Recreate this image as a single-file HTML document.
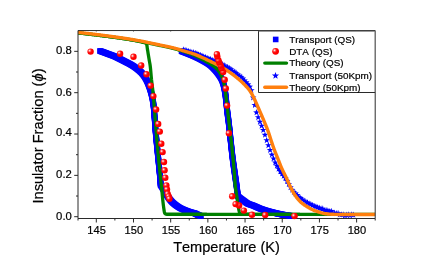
<!DOCTYPE html><html><head><meta charset="utf-8"><title>chart</title><style>html,body{margin:0;padding:0;background:#fff}
#c{will-change:transform;position:relative;width:436px;height:262px;overflow:hidden;background:#fff;font-family:"Liberation Sans",sans-serif;color:#000}
.t{position:absolute;white-space:nowrap;line-height:1;-webkit-text-stroke:0.2px #000;font-kerning:none}
.xl{font-size:11.1px;transform:translateX(-50%);top:224.5px}
.yl{font-size:11.3px;right:364.2px;transform:translateY(-50%)}
.lg{font-size:9.88px;left:289.2px;transform:translateY(-50%)}
</style></head><body><div id="c"><svg width="436" height="262" viewBox="0 0 436 262" style="position:absolute;left:0;top:0"><defs><radialGradient id="rg" cx="0.34" cy="0.35" r="0.68" fx="0.34" fy="0.35"><stop offset="0" stop-color="#fff0f0"/><stop offset="0.11" stop-color="#ffc4c4"/><stop offset="0.25" stop-color="#ff6464"/><stop offset="0.43" stop-color="#ff1616"/><stop offset="0.62" stop-color="#ff0000"/><stop offset="1" stop-color="#f80000"/></radialGradient><clipPath id="cp"><rect x="78.0" y="30.55" width="297.2" height="189.14999999999998"/></clipPath></defs><rect width="436" height="262" fill="#fff"/><g clip-path="url(#cp)"><g fill="#0000ff"><rect x="97.15" y="48.20" width="5.6" height="5.6"/><rect x="97.72" y="48.39" width="5.6" height="5.6"/><rect x="98.30" y="48.58" width="5.6" height="5.6"/><rect x="98.87" y="48.77" width="5.6" height="5.6"/><rect x="99.44" y="48.97" width="5.6" height="5.6"/><rect x="100.01" y="49.17" width="5.6" height="5.6"/><rect x="100.58" y="49.37" width="5.6" height="5.6"/><rect x="101.15" y="49.58" width="5.6" height="5.6"/><rect x="101.71" y="49.79" width="5.6" height="5.6"/><rect x="102.28" y="50.00" width="5.6" height="5.6"/><rect x="102.85" y="50.21" width="5.6" height="5.6"/><rect x="103.41" y="50.42" width="5.6" height="5.6"/><rect x="103.98" y="50.64" width="5.6" height="5.6"/><rect x="104.54" y="50.85" width="5.6" height="5.6"/><rect x="105.11" y="51.06" width="5.6" height="5.6"/><rect x="105.67" y="51.27" width="5.6" height="5.6"/><rect x="106.24" y="51.48" width="5.6" height="5.6"/><rect x="106.81" y="51.69" width="5.6" height="5.6"/><rect x="107.38" y="51.89" width="5.6" height="5.6"/><rect x="107.95" y="52.10" width="5.6" height="5.6"/><rect x="108.52" y="52.30" width="5.6" height="5.6"/><rect x="109.08" y="52.51" width="5.6" height="5.6"/><rect x="109.65" y="52.72" width="5.6" height="5.6"/><rect x="110.21" y="52.94" width="5.6" height="5.6"/><rect x="110.77" y="53.16" width="5.6" height="5.6"/><rect x="111.33" y="53.39" width="5.6" height="5.6"/><rect x="111.89" y="53.62" width="5.6" height="5.6"/><rect x="112.44" y="53.87" width="5.6" height="5.6"/><rect x="112.99" y="54.12" width="5.6" height="5.6"/><rect x="113.53" y="54.38" width="5.6" height="5.6"/><rect x="114.08" y="54.64" width="5.6" height="5.6"/><rect x="114.62" y="54.91" width="5.6" height="5.6"/><rect x="115.16" y="55.18" width="5.6" height="5.6"/><rect x="115.70" y="55.45" width="5.6" height="5.6"/><rect x="116.24" y="55.72" width="5.6" height="5.6"/><rect x="116.78" y="55.99" width="5.6" height="5.6"/><rect x="117.32" y="56.26" width="5.6" height="5.6"/><rect x="117.86" y="56.53" width="5.6" height="5.6"/><rect x="118.40" y="56.80" width="5.6" height="5.6"/><rect x="118.94" y="57.07" width="5.6" height="5.6"/><rect x="119.48" y="57.34" width="5.6" height="5.6"/><rect x="120.02" y="57.62" width="5.6" height="5.6"/><rect x="120.56" y="57.89" width="5.6" height="5.6"/><rect x="121.10" y="58.17" width="5.6" height="5.6"/><rect x="121.63" y="58.44" width="5.6" height="5.6"/><rect x="122.17" y="58.72" width="5.6" height="5.6"/><rect x="122.71" y="59.00" width="5.6" height="5.6"/><rect x="123.24" y="59.28" width="5.6" height="5.6"/><rect x="123.78" y="59.55" width="5.6" height="5.6"/><rect x="124.32" y="59.83" width="5.6" height="5.6"/><rect x="124.86" y="60.11" width="5.6" height="5.6"/><rect x="125.39" y="60.38" width="5.6" height="5.6"/><rect x="125.93" y="60.66" width="5.6" height="5.6"/><rect x="126.47" y="60.94" width="5.6" height="5.6"/><rect x="127.00" y="61.23" width="5.6" height="5.6"/><rect x="127.53" y="61.52" width="5.6" height="5.6"/><rect x="128.05" y="61.82" width="5.6" height="5.6"/><rect x="128.57" y="62.12" width="5.6" height="5.6"/><rect x="129.09" y="62.43" width="5.6" height="5.6"/><rect x="129.60" y="62.75" width="5.6" height="5.6"/><rect x="130.11" y="63.07" width="5.6" height="5.6"/><rect x="130.62" y="63.40" width="5.6" height="5.6"/><rect x="131.13" y="63.73" width="5.6" height="5.6"/><rect x="131.63" y="64.07" width="5.6" height="5.6"/><rect x="132.13" y="64.42" width="5.6" height="5.6"/><rect x="132.63" y="64.77" width="5.6" height="5.6"/><rect x="133.12" y="65.12" width="5.6" height="5.6"/><rect x="133.60" y="65.48" width="5.6" height="5.6"/><rect x="134.08" y="65.85" width="5.6" height="5.6"/><rect x="134.55" y="66.22" width="5.6" height="5.6"/><rect x="135.02" y="66.60" width="5.6" height="5.6"/><rect x="135.49" y="66.98" width="5.6" height="5.6"/><rect x="135.95" y="67.37" width="5.6" height="5.6"/><rect x="136.42" y="67.76" width="5.6" height="5.6"/><rect x="136.87" y="68.17" width="5.6" height="5.6"/><rect x="137.33" y="68.57" width="5.6" height="5.6"/><rect x="137.77" y="68.99" width="5.6" height="5.6"/><rect x="138.21" y="69.41" width="5.6" height="5.6"/><rect x="138.63" y="69.84" width="5.6" height="5.6"/><rect x="139.04" y="70.28" width="5.6" height="5.6"/><rect x="139.44" y="70.72" width="5.6" height="5.6"/><rect x="139.83" y="71.17" width="5.6" height="5.6"/><rect x="140.21" y="71.64" width="5.6" height="5.6"/><rect x="140.58" y="72.11" width="5.6" height="5.6"/><rect x="140.94" y="72.60" width="5.6" height="5.6"/><rect x="141.29" y="73.10" width="5.6" height="5.6"/><rect x="141.64" y="73.60" width="5.6" height="5.6"/><rect x="141.97" y="74.11" width="5.6" height="5.6"/><rect x="142.29" y="74.62" width="5.6" height="5.6"/><rect x="142.61" y="75.14" width="5.6" height="5.6"/><rect x="142.91" y="75.66" width="5.6" height="5.6"/><rect x="143.20" y="76.18" width="5.6" height="5.6"/><rect x="143.49" y="76.72" width="5.6" height="5.6"/><rect x="143.77" y="77.26" width="5.6" height="5.6"/><rect x="144.03" y="77.80" width="5.6" height="5.6"/><rect x="144.30" y="78.35" width="5.6" height="5.6"/><rect x="144.55" y="78.90" width="5.6" height="5.6"/><rect x="144.79" y="79.45" width="5.6" height="5.6"/><rect x="145.03" y="80.00" width="5.6" height="5.6"/><rect x="145.26" y="80.56" width="5.6" height="5.6"/><rect x="145.49" y="81.12" width="5.6" height="5.6"/><rect x="145.71" y="81.68" width="5.6" height="5.6"/><rect x="145.92" y="82.24" width="5.6" height="5.6"/><rect x="146.14" y="82.81" width="5.6" height="5.6"/><rect x="146.35" y="83.38" width="5.6" height="5.6"/><rect x="146.55" y="83.95" width="5.6" height="5.6"/><rect x="146.75" y="84.52" width="5.6" height="5.6"/><rect x="146.94" y="85.10" width="5.6" height="5.6"/><rect x="147.13" y="85.67" width="5.6" height="5.6"/><rect x="147.31" y="86.25" width="5.6" height="5.6"/><rect x="147.49" y="86.82" width="5.6" height="5.6"/><rect x="147.66" y="87.40" width="5.6" height="5.6"/><rect x="147.83" y="87.98" width="5.6" height="5.6"/><rect x="148.00" y="88.56" width="5.6" height="5.6"/><rect x="148.16" y="89.14" width="5.6" height="5.6"/><rect x="148.32" y="89.73" width="5.6" height="5.6"/><rect x="148.48" y="90.31" width="5.6" height="5.6"/><rect x="148.63" y="90.90" width="5.6" height="5.6"/><rect x="148.78" y="91.48" width="5.6" height="5.6"/><rect x="148.92" y="92.07" width="5.6" height="5.6"/><rect x="149.06" y="92.66" width="5.6" height="5.6"/><rect x="149.20" y="93.25" width="5.6" height="5.6"/><rect x="149.33" y="93.84" width="5.6" height="5.6"/><rect x="149.45" y="94.43" width="5.6" height="5.6"/><rect x="149.57" y="95.02" width="5.6" height="5.6"/><rect x="149.68" y="95.61" width="5.6" height="5.6"/><rect x="149.78" y="96.21" width="5.6" height="5.6"/><rect x="149.89" y="96.80" width="5.6" height="5.6"/><rect x="149.99" y="97.40" width="5.6" height="5.6"/><rect x="150.09" y="97.99" width="5.6" height="5.6"/><rect x="150.18" y="98.59" width="5.6" height="5.6"/><rect x="150.28" y="99.19" width="5.6" height="5.6"/><rect x="150.36" y="99.79" width="5.6" height="5.6"/><rect x="150.45" y="100.39" width="5.6" height="5.6"/><rect x="150.53" y="100.99" width="5.6" height="5.6"/><rect x="150.61" y="101.58" width="5.6" height="5.6"/><rect x="150.68" y="102.18" width="5.6" height="5.6"/><rect x="150.75" y="102.78" width="5.6" height="5.6"/><rect x="150.82" y="103.38" width="5.6" height="5.6"/><rect x="150.88" y="103.98" width="5.6" height="5.6"/><rect x="150.95" y="104.58" width="5.6" height="5.6"/><rect x="151.01" y="105.18" width="5.6" height="5.6"/><rect x="151.06" y="105.78" width="5.6" height="5.6"/><rect x="151.12" y="106.38" width="5.6" height="5.6"/><rect x="151.18" y="106.98" width="5.6" height="5.6"/><rect x="151.23" y="107.59" width="5.6" height="5.6"/><rect x="151.28" y="108.19" width="5.6" height="5.6"/><rect x="151.33" y="108.79" width="5.6" height="5.6"/><rect x="151.38" y="109.39" width="5.6" height="5.6"/><rect x="151.43" y="109.99" width="5.6" height="5.6"/><rect x="151.48" y="110.59" width="5.6" height="5.6"/><rect x="151.53" y="111.20" width="5.6" height="5.6"/><rect x="151.57" y="111.80" width="5.6" height="5.6"/><rect x="151.62" y="112.40" width="5.6" height="5.6"/><rect x="151.66" y="113.00" width="5.6" height="5.6"/><rect x="151.71" y="113.61" width="5.6" height="5.6"/><rect x="151.75" y="114.21" width="5.6" height="5.6"/><rect x="151.79" y="114.81" width="5.6" height="5.6"/><rect x="151.83" y="115.42" width="5.6" height="5.6"/><rect x="151.87" y="116.02" width="5.6" height="5.6"/><rect x="151.92" y="116.62" width="5.6" height="5.6"/><rect x="151.96" y="117.22" width="5.6" height="5.6"/><rect x="152.00" y="117.83" width="5.6" height="5.6"/><rect x="152.04" y="118.43" width="5.6" height="5.6"/><rect x="152.08" y="119.03" width="5.6" height="5.6"/><rect x="152.12" y="119.64" width="5.6" height="5.6"/><rect x="152.17" y="120.24" width="5.6" height="5.6"/><rect x="152.21" y="120.84" width="5.6" height="5.6"/><rect x="152.25" y="121.45" width="5.6" height="5.6"/><rect x="152.30" y="122.05" width="5.6" height="5.6"/><rect x="152.34" y="122.65" width="5.6" height="5.6"/><rect x="152.38" y="123.25" width="5.6" height="5.6"/><rect x="152.43" y="123.86" width="5.6" height="5.6"/><rect x="152.48" y="124.46" width="5.6" height="5.6"/><rect x="152.52" y="125.06" width="5.6" height="5.6"/><rect x="152.57" y="125.66" width="5.6" height="5.6"/><rect x="152.62" y="126.27" width="5.6" height="5.6"/><rect x="152.67" y="126.87" width="5.6" height="5.6"/><rect x="152.72" y="127.47" width="5.6" height="5.6"/><rect x="152.78" y="128.07" width="5.6" height="5.6"/><rect x="152.83" y="128.67" width="5.6" height="5.6"/><rect x="152.88" y="129.28" width="5.6" height="5.6"/><rect x="152.94" y="129.88" width="5.6" height="5.6"/><rect x="152.99" y="130.48" width="5.6" height="5.6"/><rect x="153.05" y="131.08" width="5.6" height="5.6"/><rect x="153.10" y="131.68" width="5.6" height="5.6"/><rect x="153.16" y="132.28" width="5.6" height="5.6"/><rect x="153.21" y="132.88" width="5.6" height="5.6"/><rect x="153.27" y="133.49" width="5.6" height="5.6"/><rect x="153.33" y="134.09" width="5.6" height="5.6"/><rect x="153.38" y="134.69" width="5.6" height="5.6"/><rect x="153.44" y="135.29" width="5.6" height="5.6"/><rect x="153.50" y="135.89" width="5.6" height="5.6"/><rect x="153.55" y="136.49" width="5.6" height="5.6"/><rect x="153.61" y="137.09" width="5.6" height="5.6"/><rect x="153.67" y="137.70" width="5.6" height="5.6"/><rect x="153.73" y="138.30" width="5.6" height="5.6"/><rect x="153.79" y="138.90" width="5.6" height="5.6"/><rect x="153.84" y="139.50" width="5.6" height="5.6"/><rect x="153.90" y="140.10" width="5.6" height="5.6"/><rect x="153.96" y="140.70" width="5.6" height="5.6"/><rect x="154.02" y="141.30" width="5.6" height="5.6"/><rect x="154.08" y="141.90" width="5.6" height="5.6"/><rect x="154.14" y="142.50" width="5.6" height="5.6"/><rect x="154.20" y="143.11" width="5.6" height="5.6"/><rect x="154.25" y="143.71" width="5.6" height="5.6"/><rect x="154.31" y="144.31" width="5.6" height="5.6"/><rect x="154.37" y="144.91" width="5.6" height="5.6"/><rect x="154.43" y="145.51" width="5.6" height="5.6"/><rect x="154.49" y="146.11" width="5.6" height="5.6"/><rect x="154.55" y="146.71" width="5.6" height="5.6"/><rect x="154.61" y="147.31" width="5.6" height="5.6"/><rect x="154.67" y="147.92" width="5.6" height="5.6"/><rect x="154.73" y="148.52" width="5.6" height="5.6"/><rect x="154.79" y="149.12" width="5.6" height="5.6"/><rect x="154.85" y="149.72" width="5.6" height="5.6"/><rect x="154.91" y="150.32" width="5.6" height="5.6"/><rect x="154.97" y="150.92" width="5.6" height="5.6"/><rect x="155.03" y="151.52" width="5.6" height="5.6"/><rect x="155.09" y="152.12" width="5.6" height="5.6"/><rect x="155.15" y="152.72" width="5.6" height="5.6"/><rect x="155.21" y="153.32" width="5.6" height="5.6"/><rect x="155.27" y="153.93" width="5.6" height="5.6"/><rect x="155.34" y="154.53" width="5.6" height="5.6"/><rect x="155.40" y="155.13" width="5.6" height="5.6"/><rect x="155.46" y="155.73" width="5.6" height="5.6"/><rect x="155.52" y="156.33" width="5.6" height="5.6"/><rect x="155.58" y="156.93" width="5.6" height="5.6"/><rect x="155.64" y="157.53" width="5.6" height="5.6"/><rect x="155.70" y="158.13" width="5.6" height="5.6"/><rect x="155.76" y="158.73" width="5.6" height="5.6"/><rect x="155.82" y="159.33" width="5.6" height="5.6"/><rect x="155.88" y="159.94" width="5.6" height="5.6"/><rect x="155.94" y="160.54" width="5.6" height="5.6"/><rect x="156.00" y="161.14" width="5.6" height="5.6"/><rect x="156.06" y="161.74" width="5.6" height="5.6"/><rect x="156.12" y="162.34" width="5.6" height="5.6"/><rect x="156.18" y="162.94" width="5.6" height="5.6"/><rect x="156.24" y="163.54" width="5.6" height="5.6"/><rect x="156.30" y="164.14" width="5.6" height="5.6"/><rect x="156.36" y="164.74" width="5.6" height="5.6"/><rect x="156.41" y="165.35" width="5.6" height="5.6"/><rect x="156.47" y="165.95" width="5.6" height="5.6"/><rect x="156.53" y="166.55" width="5.6" height="5.6"/><rect x="156.59" y="167.15" width="5.6" height="5.6"/><rect x="156.65" y="167.75" width="5.6" height="5.6"/><rect x="156.71" y="168.35" width="5.6" height="5.6"/><rect x="156.77" y="168.95" width="5.6" height="5.6"/><rect x="156.83" y="169.55" width="5.6" height="5.6"/><rect x="156.89" y="170.16" width="5.6" height="5.6"/><rect x="156.94" y="170.76" width="5.6" height="5.6"/><rect x="157.00" y="171.36" width="5.6" height="5.6"/><rect x="157.06" y="171.96" width="5.6" height="5.6"/><rect x="157.12" y="172.56" width="5.6" height="5.6"/><rect x="157.17" y="173.16" width="5.6" height="5.6"/><rect x="157.22" y="173.76" width="5.6" height="5.6"/><rect x="157.28" y="174.37" width="5.6" height="5.6"/><rect x="157.33" y="174.97" width="5.6" height="5.6"/><rect x="157.38" y="175.57" width="5.6" height="5.6"/><rect x="157.42" y="176.17" width="5.6" height="5.6"/><rect x="157.47" y="176.77" width="5.6" height="5.6"/><rect x="157.51" y="177.38" width="5.6" height="5.6"/><rect x="157.55" y="177.98" width="5.6" height="5.6"/><rect x="157.59" y="178.58" width="5.6" height="5.6"/><rect x="157.63" y="179.18" width="5.6" height="5.6"/><rect x="157.67" y="179.79" width="5.6" height="5.6"/><rect x="157.70" y="180.39" width="5.6" height="5.6"/><rect x="157.74" y="180.99" width="5.6" height="5.6"/><rect x="157.77" y="181.60" width="5.6" height="5.6"/><rect x="157.80" y="182.20" width="5.6" height="5.6"/><rect x="158.10" y="182.50" width="5.6" height="5.6"/><rect x="158.43" y="183.01" width="5.6" height="5.6"/><rect x="158.76" y="183.53" width="5.6" height="5.6"/><rect x="159.08" y="184.04" width="5.6" height="5.6"/><rect x="159.41" y="184.56" width="5.6" height="5.6"/><rect x="159.73" y="185.07" width="5.6" height="5.6"/><rect x="160.06" y="185.59" width="5.6" height="5.6"/><rect x="160.38" y="186.10" width="5.6" height="5.6"/><rect x="160.71" y="186.62" width="5.6" height="5.6"/><rect x="161.03" y="187.13" width="5.6" height="5.6"/><rect x="161.36" y="187.65" width="5.6" height="5.6"/><rect x="161.67" y="188.17" width="5.6" height="5.6"/><rect x="161.99" y="188.69" width="5.6" height="5.6"/><rect x="162.30" y="189.22" width="5.6" height="5.6"/><rect x="162.61" y="189.75" width="5.6" height="5.6"/><rect x="162.92" y="190.28" width="5.6" height="5.6"/><rect x="163.22" y="190.81" width="5.6" height="5.6"/><rect x="163.53" y="191.33" width="5.6" height="5.6"/><rect x="163.84" y="191.86" width="5.6" height="5.6"/><rect x="164.15" y="192.38" width="5.6" height="5.6"/><rect x="164.47" y="192.91" width="5.6" height="5.6"/><rect x="164.79" y="193.42" width="5.6" height="5.6"/><rect x="165.12" y="193.93" width="5.6" height="5.6"/><rect x="165.46" y="194.44" width="5.6" height="5.6"/><rect x="165.80" y="194.94" width="5.6" height="5.6"/><rect x="166.15" y="195.43" width="5.6" height="5.6"/><rect x="166.51" y="195.92" width="5.6" height="5.6"/><rect x="166.88" y="196.40" width="5.6" height="5.6"/><rect x="167.26" y="196.88" width="5.6" height="5.6"/><rect x="167.65" y="197.36" width="5.6" height="5.6"/><rect x="168.04" y="197.82" width="5.6" height="5.6"/><rect x="168.45" y="198.28" width="5.6" height="5.6"/><rect x="168.86" y="198.74" width="5.6" height="5.6"/><rect x="169.28" y="199.18" width="5.6" height="5.6"/><rect x="169.70" y="199.60" width="5.6" height="5.6"/><rect x="170.14" y="200.02" width="5.6" height="5.6"/><rect x="170.59" y="200.43" width="5.6" height="5.6"/><rect x="171.06" y="200.83" width="5.6" height="5.6"/><rect x="171.53" y="201.22" width="5.6" height="5.6"/><rect x="172.01" y="201.60" width="5.6" height="5.6"/><rect x="172.49" y="201.97" width="5.6" height="5.6"/><rect x="172.98" y="202.34" width="5.6" height="5.6"/><rect x="173.47" y="202.70" width="5.6" height="5.6"/><rect x="173.96" y="203.05" width="5.6" height="5.6"/><rect x="174.46" y="203.40" width="5.6" height="5.6"/><rect x="174.97" y="203.75" width="5.6" height="5.6"/><rect x="175.48" y="204.09" width="5.6" height="5.6"/><rect x="176.00" y="204.41" width="5.6" height="5.6"/><rect x="176.52" y="204.73" width="5.6" height="5.6"/><rect x="177.04" y="205.04" width="5.6" height="5.6"/><rect x="177.57" y="205.33" width="5.6" height="5.6"/><rect x="178.11" y="205.61" width="5.6" height="5.6"/><rect x="178.65" y="205.88" width="5.6" height="5.6"/><rect x="179.20" y="206.14" width="5.6" height="5.6"/><rect x="179.76" y="206.39" width="5.6" height="5.6"/><rect x="180.32" y="206.63" width="5.6" height="5.6"/><rect x="180.89" y="206.87" width="5.6" height="5.6"/><rect x="181.45" y="207.10" width="5.6" height="5.6"/><rect x="182.02" y="207.33" width="5.6" height="5.6"/><rect x="182.58" y="207.55" width="5.6" height="5.6"/><rect x="183.15" y="207.78" width="5.6" height="5.6"/><rect x="183.72" y="207.99" width="5.6" height="5.6"/><rect x="184.29" y="208.21" width="5.6" height="5.6"/><rect x="184.86" y="208.41" width="5.6" height="5.6"/><rect x="185.44" y="208.62" width="5.6" height="5.6"/><rect x="186.02" y="208.82" width="5.6" height="5.6"/><rect x="186.59" y="209.01" width="5.6" height="5.6"/><rect x="187.17" y="209.20" width="5.6" height="5.6"/><rect x="187.76" y="209.38" width="5.6" height="5.6"/><rect x="188.34" y="209.54" width="5.6" height="5.6"/><rect x="188.93" y="209.70" width="5.6" height="5.6"/><rect x="189.53" y="209.85" width="5.6" height="5.6"/><rect x="190.12" y="209.99" width="5.6" height="5.6"/><rect x="190.71" y="210.15" width="5.6" height="5.6"/><rect x="191.30" y="210.31" width="5.6" height="5.6"/><rect x="191.88" y="210.49" width="5.6" height="5.6"/><rect x="192.45" y="210.69" width="5.6" height="5.6"/><rect x="193.00" y="210.93" width="5.6" height="5.6"/><rect x="193.55" y="211.19" width="5.6" height="5.6"/><rect x="194.10" y="211.47" width="5.6" height="5.6"/><rect x="194.65" y="211.74" width="5.6" height="5.6"/><rect x="195.20" y="212.00" width="5.6" height="5.6"/><rect x="195.76" y="212.25" width="5.6" height="5.6"/><rect x="196.32" y="212.49" width="5.6" height="5.6"/><rect x="196.88" y="212.73" width="5.6" height="5.6"/><rect x="197.44" y="212.97" width="5.6" height="5.6"/><rect x="198.00" y="213.20" width="5.6" height="5.6"/><rect x="178.70" y="48.40" width="5.6" height="5.6"/><rect x="179.27" y="48.61" width="5.6" height="5.6"/><rect x="179.83" y="48.82" width="5.6" height="5.6"/><rect x="180.40" y="49.03" width="5.6" height="5.6"/><rect x="180.96" y="49.25" width="5.6" height="5.6"/><rect x="181.53" y="49.46" width="5.6" height="5.6"/><rect x="182.09" y="49.68" width="5.6" height="5.6"/><rect x="182.65" y="49.90" width="5.6" height="5.6"/><rect x="183.22" y="50.12" width="5.6" height="5.6"/><rect x="183.78" y="50.34" width="5.6" height="5.6"/><rect x="184.34" y="50.56" width="5.6" height="5.6"/><rect x="184.90" y="50.78" width="5.6" height="5.6"/><rect x="185.46" y="51.00" width="5.6" height="5.6"/><rect x="186.02" y="51.23" width="5.6" height="5.6"/><rect x="186.58" y="51.45" width="5.6" height="5.6"/><rect x="187.14" y="51.68" width="5.6" height="5.6"/><rect x="187.71" y="51.90" width="5.6" height="5.6"/><rect x="188.27" y="52.13" width="5.6" height="5.6"/><rect x="188.82" y="52.36" width="5.6" height="5.6"/><rect x="189.38" y="52.59" width="5.6" height="5.6"/><rect x="189.94" y="52.83" width="5.6" height="5.6"/><rect x="190.49" y="53.07" width="5.6" height="5.6"/><rect x="191.05" y="53.31" width="5.6" height="5.6"/><rect x="191.60" y="53.55" width="5.6" height="5.6"/><rect x="192.14" y="53.80" width="5.6" height="5.6"/><rect x="192.69" y="54.05" width="5.6" height="5.6"/><rect x="193.24" y="54.31" width="5.6" height="5.6"/><rect x="193.79" y="54.57" width="5.6" height="5.6"/><rect x="194.33" y="54.83" width="5.6" height="5.6"/><rect x="194.88" y="55.09" width="5.6" height="5.6"/><rect x="195.42" y="55.35" width="5.6" height="5.6"/><rect x="195.96" y="55.62" width="5.6" height="5.6"/><rect x="196.51" y="55.89" width="5.6" height="5.6"/><rect x="197.04" y="56.17" width="5.6" height="5.6"/><rect x="197.58" y="56.44" width="5.6" height="5.6"/><rect x="198.12" y="56.72" width="5.6" height="5.6"/><rect x="198.65" y="57.00" width="5.6" height="5.6"/><rect x="199.19" y="57.29" width="5.6" height="5.6"/><rect x="199.72" y="57.57" width="5.6" height="5.6"/><rect x="200.25" y="57.87" width="5.6" height="5.6"/><rect x="200.77" y="58.16" width="5.6" height="5.6"/><rect x="201.30" y="58.45" width="5.6" height="5.6"/><rect x="201.82" y="58.75" width="5.6" height="5.6"/><rect x="202.35" y="59.05" width="5.6" height="5.6"/><rect x="202.87" y="59.36" width="5.6" height="5.6"/><rect x="203.40" y="59.67" width="5.6" height="5.6"/><rect x="203.92" y="59.98" width="5.6" height="5.6"/><rect x="204.44" y="60.30" width="5.6" height="5.6"/><rect x="204.95" y="60.62" width="5.6" height="5.6"/><rect x="205.46" y="60.95" width="5.6" height="5.6"/><rect x="205.95" y="61.29" width="5.6" height="5.6"/><rect x="206.45" y="61.64" width="5.6" height="5.6"/><rect x="206.93" y="61.99" width="5.6" height="5.6"/><rect x="207.40" y="62.36" width="5.6" height="5.6"/><rect x="207.86" y="62.73" width="5.6" height="5.6"/><rect x="208.32" y="63.13" width="5.6" height="5.6"/><rect x="208.77" y="63.53" width="5.6" height="5.6"/><rect x="209.21" y="63.94" width="5.6" height="5.6"/><rect x="209.65" y="64.37" width="5.6" height="5.6"/><rect x="210.08" y="64.80" width="5.6" height="5.6"/><rect x="210.50" y="65.23" width="5.6" height="5.6"/><rect x="210.92" y="65.67" width="5.6" height="5.6"/><rect x="211.34" y="66.11" width="5.6" height="5.6"/><rect x="211.75" y="66.55" width="5.6" height="5.6"/><rect x="212.15" y="66.99" width="5.6" height="5.6"/><rect x="212.56" y="67.44" width="5.6" height="5.6"/><rect x="212.96" y="67.90" width="5.6" height="5.6"/><rect x="213.35" y="68.36" width="5.6" height="5.6"/><rect x="213.75" y="68.82" width="5.6" height="5.6"/><rect x="214.13" y="69.29" width="5.6" height="5.6"/><rect x="214.51" y="69.76" width="5.6" height="5.6"/><rect x="214.88" y="70.24" width="5.6" height="5.6"/><rect x="215.24" y="70.72" width="5.6" height="5.6"/><rect x="215.60" y="71.21" width="5.6" height="5.6"/><rect x="215.94" y="71.70" width="5.6" height="5.6"/><rect x="216.28" y="72.20" width="5.6" height="5.6"/><rect x="216.63" y="72.70" width="5.6" height="5.6"/><rect x="216.97" y="73.20" width="5.6" height="5.6"/><rect x="217.30" y="73.71" width="5.6" height="5.6"/><rect x="217.63" y="74.23" width="5.6" height="5.6"/><rect x="217.95" y="74.75" width="5.6" height="5.6"/><rect x="218.25" y="75.27" width="5.6" height="5.6"/><rect x="218.54" y="75.81" width="5.6" height="5.6"/><rect x="218.81" y="76.34" width="5.6" height="5.6"/><rect x="219.06" y="76.88" width="5.6" height="5.6"/><rect x="219.29" y="77.43" width="5.6" height="5.6"/><rect x="219.51" y="77.98" width="5.6" height="5.6"/><rect x="219.72" y="78.54" width="5.6" height="5.6"/><rect x="219.92" y="79.11" width="5.6" height="5.6"/><rect x="220.11" y="79.69" width="5.6" height="5.6"/><rect x="220.30" y="80.27" width="5.6" height="5.6"/><rect x="220.47" y="80.85" width="5.6" height="5.6"/><rect x="220.64" y="81.44" width="5.6" height="5.6"/><rect x="220.80" y="82.03" width="5.6" height="5.6"/><rect x="220.95" y="82.62" width="5.6" height="5.6"/><rect x="221.09" y="83.20" width="5.6" height="5.6"/><rect x="221.22" y="83.79" width="5.6" height="5.6"/><rect x="221.35" y="84.38" width="5.6" height="5.6"/><rect x="221.47" y="84.97" width="5.6" height="5.6"/><rect x="221.59" y="85.56" width="5.6" height="5.6"/><rect x="221.70" y="86.15" width="5.6" height="5.6"/><rect x="221.81" y="86.74" width="5.6" height="5.6"/><rect x="221.92" y="87.34" width="5.6" height="5.6"/><rect x="222.02" y="87.93" width="5.6" height="5.6"/><rect x="222.12" y="88.53" width="5.6" height="5.6"/><rect x="222.21" y="89.13" width="5.6" height="5.6"/><rect x="222.31" y="89.73" width="5.6" height="5.6"/><rect x="222.40" y="90.33" width="5.6" height="5.6"/><rect x="222.49" y="90.93" width="5.6" height="5.6"/><rect x="222.57" y="91.52" width="5.6" height="5.6"/><rect x="222.65" y="92.12" width="5.6" height="5.6"/><rect x="222.74" y="92.72" width="5.6" height="5.6"/><rect x="222.82" y="93.32" width="5.6" height="5.6"/><rect x="222.89" y="93.92" width="5.6" height="5.6"/><rect x="222.97" y="94.52" width="5.6" height="5.6"/><rect x="223.04" y="95.11" width="5.6" height="5.6"/><rect x="223.11" y="95.71" width="5.6" height="5.6"/><rect x="223.18" y="96.31" width="5.6" height="5.6"/><rect x="223.24" y="96.91" width="5.6" height="5.6"/><rect x="223.31" y="97.51" width="5.6" height="5.6"/><rect x="223.37" y="98.12" width="5.6" height="5.6"/><rect x="223.43" y="98.72" width="5.6" height="5.6"/><rect x="223.49" y="99.32" width="5.6" height="5.6"/><rect x="223.55" y="99.92" width="5.6" height="5.6"/><rect x="223.61" y="100.52" width="5.6" height="5.6"/><rect x="223.67" y="101.12" width="5.6" height="5.6"/><rect x="223.73" y="101.72" width="5.6" height="5.6"/><rect x="223.79" y="102.32" width="5.6" height="5.6"/><rect x="223.85" y="102.92" width="5.6" height="5.6"/><rect x="223.91" y="103.53" width="5.6" height="5.6"/><rect x="223.97" y="104.13" width="5.6" height="5.6"/><rect x="224.03" y="104.73" width="5.6" height="5.6"/><rect x="224.09" y="105.33" width="5.6" height="5.6"/><rect x="224.16" y="105.93" width="5.6" height="5.6"/><rect x="224.22" y="106.53" width="5.6" height="5.6"/><rect x="224.29" y="107.13" width="5.6" height="5.6"/><rect x="224.36" y="107.73" width="5.6" height="5.6"/><rect x="224.43" y="108.33" width="5.6" height="5.6"/><rect x="224.51" y="108.93" width="5.6" height="5.6"/><rect x="224.58" y="109.53" width="5.6" height="5.6"/><rect x="224.66" y="110.13" width="5.6" height="5.6"/><rect x="224.73" y="110.73" width="5.6" height="5.6"/><rect x="224.81" y="111.32" width="5.6" height="5.6"/><rect x="224.89" y="111.92" width="5.6" height="5.6"/><rect x="224.96" y="112.52" width="5.6" height="5.6"/><rect x="225.04" y="113.12" width="5.6" height="5.6"/><rect x="225.12" y="113.72" width="5.6" height="5.6"/><rect x="225.20" y="114.32" width="5.6" height="5.6"/><rect x="225.28" y="114.92" width="5.6" height="5.6"/><rect x="225.36" y="115.52" width="5.6" height="5.6"/><rect x="225.44" y="116.11" width="5.6" height="5.6"/><rect x="225.52" y="116.71" width="5.6" height="5.6"/><rect x="225.59" y="117.31" width="5.6" height="5.6"/><rect x="225.67" y="117.91" width="5.6" height="5.6"/><rect x="225.75" y="118.51" width="5.6" height="5.6"/><rect x="225.82" y="119.11" width="5.6" height="5.6"/><rect x="225.90" y="119.71" width="5.6" height="5.6"/><rect x="225.97" y="120.31" width="5.6" height="5.6"/><rect x="226.05" y="120.91" width="5.6" height="5.6"/><rect x="226.12" y="121.51" width="5.6" height="5.6"/><rect x="226.19" y="122.11" width="5.6" height="5.6"/><rect x="226.26" y="122.71" width="5.6" height="5.6"/><rect x="226.33" y="123.31" width="5.6" height="5.6"/><rect x="226.39" y="123.91" width="5.6" height="5.6"/><rect x="226.46" y="124.51" width="5.6" height="5.6"/><rect x="226.53" y="125.11" width="5.6" height="5.6"/><rect x="226.59" y="125.71" width="5.6" height="5.6"/><rect x="226.66" y="126.31" width="5.6" height="5.6"/><rect x="226.72" y="126.91" width="5.6" height="5.6"/><rect x="226.78" y="127.51" width="5.6" height="5.6"/><rect x="226.85" y="128.11" width="5.6" height="5.6"/><rect x="226.91" y="128.71" width="5.6" height="5.6"/><rect x="226.97" y="129.31" width="5.6" height="5.6"/><rect x="227.03" y="129.91" width="5.6" height="5.6"/><rect x="227.10" y="130.51" width="5.6" height="5.6"/><rect x="227.16" y="131.11" width="5.6" height="5.6"/><rect x="227.22" y="131.71" width="5.6" height="5.6"/><rect x="227.28" y="132.31" width="5.6" height="5.6"/><rect x="227.35" y="132.91" width="5.6" height="5.6"/><rect x="227.41" y="133.51" width="5.6" height="5.6"/><rect x="227.47" y="134.11" width="5.6" height="5.6"/><rect x="227.53" y="134.71" width="5.6" height="5.6"/><rect x="227.60" y="135.32" width="5.6" height="5.6"/><rect x="227.66" y="135.92" width="5.6" height="5.6"/><rect x="227.73" y="136.52" width="5.6" height="5.6"/><rect x="227.79" y="137.12" width="5.6" height="5.6"/><rect x="227.86" y="137.72" width="5.6" height="5.6"/><rect x="227.92" y="138.32" width="5.6" height="5.6"/><rect x="227.99" y="138.92" width="5.6" height="5.6"/><rect x="228.05" y="139.52" width="5.6" height="5.6"/><rect x="228.11" y="140.12" width="5.6" height="5.6"/><rect x="228.18" y="140.72" width="5.6" height="5.6"/><rect x="228.24" y="141.32" width="5.6" height="5.6"/><rect x="228.31" y="141.92" width="5.6" height="5.6"/><rect x="228.37" y="142.52" width="5.6" height="5.6"/><rect x="228.43" y="143.12" width="5.6" height="5.6"/><rect x="228.50" y="143.72" width="5.6" height="5.6"/><rect x="228.56" y="144.32" width="5.6" height="5.6"/><rect x="228.63" y="144.92" width="5.6" height="5.6"/><rect x="228.69" y="145.52" width="5.6" height="5.6"/><rect x="228.76" y="146.12" width="5.6" height="5.6"/><rect x="228.82" y="146.72" width="5.6" height="5.6"/><rect x="228.89" y="147.32" width="5.6" height="5.6"/><rect x="228.95" y="147.92" width="5.6" height="5.6"/><rect x="229.02" y="148.52" width="5.6" height="5.6"/><rect x="229.09" y="149.13" width="5.6" height="5.6"/><rect x="229.15" y="149.73" width="5.6" height="5.6"/><rect x="229.22" y="150.33" width="5.6" height="5.6"/><rect x="229.29" y="150.93" width="5.6" height="5.6"/><rect x="229.36" y="151.52" width="5.6" height="5.6"/><rect x="229.43" y="152.12" width="5.6" height="5.6"/><rect x="229.50" y="152.72" width="5.6" height="5.6"/><rect x="229.57" y="153.32" width="5.6" height="5.6"/><rect x="229.64" y="153.92" width="5.6" height="5.6"/><rect x="229.72" y="154.52" width="5.6" height="5.6"/><rect x="229.79" y="155.12" width="5.6" height="5.6"/><rect x="229.87" y="155.72" width="5.6" height="5.6"/><rect x="229.94" y="156.32" width="5.6" height="5.6"/><rect x="230.02" y="156.92" width="5.6" height="5.6"/><rect x="230.10" y="157.52" width="5.6" height="5.6"/><rect x="230.18" y="158.11" width="5.6" height="5.6"/><rect x="230.26" y="158.71" width="5.6" height="5.6"/><rect x="230.34" y="159.31" width="5.6" height="5.6"/><rect x="230.42" y="159.91" width="5.6" height="5.6"/><rect x="230.50" y="160.51" width="5.6" height="5.6"/><rect x="230.59" y="161.11" width="5.6" height="5.6"/><rect x="230.67" y="161.70" width="5.6" height="5.6"/><rect x="230.76" y="162.30" width="5.6" height="5.6"/><rect x="230.84" y="162.90" width="5.6" height="5.6"/><rect x="230.93" y="163.50" width="5.6" height="5.6"/><rect x="231.02" y="164.09" width="5.6" height="5.6"/><rect x="231.10" y="164.69" width="5.6" height="5.6"/><rect x="231.19" y="165.29" width="5.6" height="5.6"/><rect x="231.28" y="165.89" width="5.6" height="5.6"/><rect x="231.37" y="166.49" width="5.6" height="5.6"/><rect x="231.45" y="167.08" width="5.6" height="5.6"/><rect x="231.54" y="167.68" width="5.6" height="5.6"/><rect x="231.63" y="168.28" width="5.6" height="5.6"/><rect x="231.72" y="168.88" width="5.6" height="5.6"/><rect x="231.80" y="169.47" width="5.6" height="5.6"/><rect x="231.89" y="170.07" width="5.6" height="5.6"/><rect x="231.98" y="170.67" width="5.6" height="5.6"/><rect x="232.07" y="171.27" width="5.6" height="5.6"/><rect x="232.15" y="171.86" width="5.6" height="5.6"/><rect x="232.24" y="172.46" width="5.6" height="5.6"/><rect x="232.32" y="173.06" width="5.6" height="5.6"/><rect x="232.41" y="173.66" width="5.6" height="5.6"/><rect x="232.50" y="174.25" width="5.6" height="5.6"/><rect x="232.59" y="174.85" width="5.6" height="5.6"/><rect x="232.68" y="175.45" width="5.6" height="5.6"/><rect x="232.76" y="176.05" width="5.6" height="5.6"/><rect x="232.85" y="176.64" width="5.6" height="5.6"/><rect x="232.94" y="177.24" width="5.6" height="5.6"/><rect x="233.03" y="177.84" width="5.6" height="5.6"/><rect x="233.12" y="178.43" width="5.6" height="5.6"/><rect x="233.21" y="179.03" width="5.6" height="5.6"/><rect x="233.29" y="179.63" width="5.6" height="5.6"/><rect x="233.38" y="180.23" width="5.6" height="5.6"/><rect x="233.47" y="180.83" width="5.6" height="5.6"/><rect x="233.55" y="181.42" width="5.6" height="5.6"/><rect x="233.64" y="182.02" width="5.6" height="5.6"/><rect x="233.72" y="182.62" width="5.6" height="5.6"/><rect x="233.80" y="183.22" width="5.6" height="5.6"/><rect x="233.88" y="183.82" width="5.6" height="5.6"/><rect x="233.96" y="184.41" width="5.6" height="5.6"/><rect x="234.04" y="185.01" width="5.6" height="5.6"/><rect x="234.12" y="185.61" width="5.6" height="5.6"/><rect x="234.20" y="186.21" width="5.6" height="5.6"/><rect x="234.27" y="186.81" width="5.6" height="5.6"/><rect x="234.35" y="187.41" width="5.6" height="5.6"/><rect x="234.42" y="188.01" width="5.6" height="5.6"/><rect x="234.50" y="188.61" width="5.6" height="5.6"/><rect x="234.57" y="189.21" width="5.6" height="5.6"/><rect x="234.65" y="189.80" width="5.6" height="5.6"/><rect x="234.73" y="190.40" width="5.6" height="5.6"/><rect x="234.80" y="191.00" width="5.6" height="5.6"/><rect x="234.88" y="191.60" width="5.6" height="5.6"/><rect x="234.95" y="192.20" width="5.6" height="5.6"/><rect x="235.03" y="192.80" width="5.6" height="5.6"/><rect x="235.10" y="193.40" width="5.6" height="5.6"/><rect x="235.80" y="194.10" width="5.6" height="5.6"/><rect x="236.27" y="194.49" width="5.6" height="5.6"/><rect x="236.74" y="194.87" width="5.6" height="5.6"/><rect x="237.22" y="195.25" width="5.6" height="5.6"/><rect x="237.70" y="195.62" width="5.6" height="5.6"/><rect x="238.18" y="195.99" width="5.6" height="5.6"/><rect x="238.67" y="196.35" width="5.6" height="5.6"/><rect x="239.16" y="196.72" width="5.6" height="5.6"/><rect x="239.65" y="197.07" width="5.6" height="5.6"/><rect x="240.14" y="197.43" width="5.6" height="5.6"/><rect x="240.63" y="197.78" width="5.6" height="5.6"/><rect x="241.13" y="198.14" width="5.6" height="5.6"/><rect x="241.62" y="198.50" width="5.6" height="5.6"/><rect x="242.11" y="198.87" width="5.6" height="5.6"/><rect x="242.60" y="199.24" width="5.6" height="5.6"/><rect x="243.10" y="199.61" width="5.6" height="5.6"/><rect x="243.60" y="199.96" width="5.6" height="5.6"/><rect x="244.11" y="200.29" width="5.6" height="5.6"/><rect x="244.62" y="200.60" width="5.6" height="5.6"/><rect x="245.15" y="200.88" width="5.6" height="5.6"/><rect x="245.69" y="201.12" width="5.6" height="5.6"/><rect x="246.25" y="201.35" width="5.6" height="5.6"/><rect x="246.82" y="201.56" width="5.6" height="5.6"/><rect x="247.40" y="201.75" width="5.6" height="5.6"/><rect x="247.98" y="201.94" width="5.6" height="5.6"/><rect x="248.56" y="202.13" width="5.6" height="5.6"/><rect x="249.15" y="202.32" width="5.6" height="5.6"/><rect x="249.72" y="202.52" width="5.6" height="5.6"/><rect x="250.29" y="202.74" width="5.6" height="5.6"/><rect x="250.86" y="202.96" width="5.6" height="5.6"/><rect x="251.42" y="203.20" width="5.6" height="5.6"/><rect x="251.98" y="203.44" width="5.6" height="5.6"/><rect x="252.53" y="203.68" width="5.6" height="5.6"/><rect x="253.09" y="203.93" width="5.6" height="5.6"/><rect x="253.65" y="204.18" width="5.6" height="5.6"/><rect x="254.20" y="204.43" width="5.6" height="5.6"/><rect x="254.76" y="204.68" width="5.6" height="5.6"/><rect x="255.31" y="204.93" width="5.6" height="5.6"/><rect x="255.87" y="205.17" width="5.6" height="5.6"/><rect x="256.43" y="205.41" width="5.6" height="5.6"/><rect x="256.99" y="205.64" width="5.6" height="5.6"/><rect x="257.56" y="205.86" width="5.6" height="5.6"/><rect x="258.12" y="206.07" width="5.6" height="5.6"/><rect x="258.69" y="206.27" width="5.6" height="5.6"/><rect x="259.27" y="206.47" width="5.6" height="5.6"/><rect x="259.84" y="206.67" width="5.6" height="5.6"/><rect x="260.42" y="206.86" width="5.6" height="5.6"/><rect x="261.00" y="207.05" width="5.6" height="5.6"/><rect x="261.57" y="207.24" width="5.6" height="5.6"/><rect x="262.15" y="207.42" width="5.6" height="5.6"/><rect x="262.74" y="207.60" width="5.6" height="5.6"/><rect x="263.32" y="207.78" width="5.6" height="5.6"/><rect x="263.90" y="207.95" width="5.6" height="5.6"/><rect x="264.49" y="208.12" width="5.6" height="5.6"/><rect x="265.07" y="208.29" width="5.6" height="5.6"/><rect x="265.66" y="208.46" width="5.6" height="5.6"/><rect x="266.25" y="208.62" width="5.6" height="5.6"/><rect x="266.83" y="208.78" width="5.6" height="5.6"/><rect x="267.42" y="208.94" width="5.6" height="5.6"/><rect x="268.01" y="209.09" width="5.6" height="5.6"/><rect x="268.60" y="209.25" width="5.6" height="5.6"/><rect x="269.18" y="209.40" width="5.6" height="5.6"/><rect x="269.77" y="209.54" width="5.6" height="5.6"/><rect x="270.36" y="209.69" width="5.6" height="5.6"/><rect x="270.95" y="209.83" width="5.6" height="5.6"/><rect x="271.54" y="209.98" width="5.6" height="5.6"/><rect x="272.13" y="210.12" width="5.6" height="5.6"/><rect x="272.73" y="210.26" width="5.6" height="5.6"/><rect x="273.32" y="210.40" width="5.6" height="5.6"/><rect x="273.91" y="210.53" width="5.6" height="5.6"/><rect x="274.51" y="210.66" width="5.6" height="5.6"/><rect x="275.10" y="210.80" width="5.6" height="5.6"/><rect x="275.70" y="210.93" width="5.6" height="5.6"/><rect x="276.29" y="211.05" width="5.6" height="5.6"/><rect x="276.89" y="211.18" width="5.6" height="5.6"/><rect x="277.48" y="211.30" width="5.6" height="5.6"/><rect x="278.08" y="211.42" width="5.6" height="5.6"/><rect x="278.68" y="211.54" width="5.6" height="5.6"/><rect x="279.27" y="211.65" width="5.6" height="5.6"/><rect x="279.87" y="211.76" width="5.6" height="5.6"/><rect x="280.47" y="211.87" width="5.6" height="5.6"/><rect x="281.07" y="211.98" width="5.6" height="5.6"/><rect x="281.66" y="212.08" width="5.6" height="5.6"/><rect x="282.26" y="212.18" width="5.6" height="5.6"/><rect x="282.86" y="212.28" width="5.6" height="5.6"/><rect x="283.46" y="212.37" width="5.6" height="5.6"/><rect x="284.06" y="212.46" width="5.6" height="5.6"/><rect x="284.67" y="212.55" width="5.6" height="5.6"/><rect x="285.27" y="212.64" width="5.6" height="5.6"/><rect x="285.87" y="212.72" width="5.6" height="5.6"/><rect x="286.47" y="212.81" width="5.6" height="5.6"/><rect x="287.08" y="212.88" width="5.6" height="5.6"/><rect x="287.68" y="212.96" width="5.6" height="5.6"/><rect x="288.28" y="213.03" width="5.6" height="5.6"/><rect x="288.89" y="213.10" width="5.6" height="5.6"/><rect x="289.49" y="213.17" width="5.6" height="5.6"/><rect x="290.10" y="213.24" width="5.6" height="5.6"/><rect x="290.70" y="213.30" width="5.6" height="5.6"/></g><path d="M78.00,32.90 L78.75,32.98 L79.50,33.06 L80.25,33.14 L81.00,33.22 L81.74,33.30 L82.49,33.39 L83.24,33.47 L83.99,33.55 L84.74,33.64 L85.49,33.72 L86.23,33.81 L86.98,33.89 L87.73,33.98 L88.48,34.06 L89.23,34.15 L89.98,34.24 L90.72,34.33 L91.47,34.42 L92.22,34.51 L92.97,34.59 L93.71,34.68 L94.46,34.78 L95.21,34.87 L95.96,34.96 L96.70,35.05 L97.45,35.14 L98.20,35.23 L98.95,35.33 L99.69,35.42 L100.44,35.52 L101.19,35.61 L101.93,35.71 L102.68,35.80 L103.43,35.90 L104.17,35.99 L104.92,36.09 L105.67,36.19 L106.41,36.28 L107.16,36.38 L107.91,36.48 L108.65,36.57 L109.40,36.67 L110.15,36.77 L110.90,36.87 L111.64,36.97 L112.39,37.07 L113.14,37.16 L113.88,37.26 L114.63,37.36 L115.38,37.47 L116.12,37.57 L116.87,37.67 L117.62,37.77 L118.36,37.88 L119.11,37.98 L119.85,38.09 L120.60,38.19 L121.34,38.30 L122.09,38.41 L122.84,38.52 L123.58,38.63 L124.32,38.74 L125.07,38.86 L125.81,38.97 L126.56,39.09 L127.30,39.21 L128.04,39.32 L128.79,39.45 L129.53,39.57 L130.27,39.69 L131.01,39.82 L131.75,39.94 L132.49,40.07 L133.24,40.21 L133.98,40.35 L134.72,40.49 L135.46,40.63 L136.20,40.78 L136.93,40.93 L137.67,41.09 L138.41,41.24 L139.14,41.41 L139.88,41.57 L140.61,41.74 L141.34,41.92 L142.07,42.10 L142.80,42.28 L143.53,42.48 L144.26,42.68 L144.98,42.89 L145.75,43.10 L146.33,43.45 L146.63,44.15 L146.80,44.86 L146.94,45.60 L147.05,46.35 L147.15,47.11 L147.24,47.87 L147.34,48.63 L147.46,49.37 L147.58,50.12 L147.70,50.86 L147.82,51.60 L147.93,52.35 L148.05,53.09 L148.17,53.83 L148.29,54.58 L148.42,55.32 L148.54,56.06 L148.66,56.81 L148.79,57.55 L148.91,58.29 L149.04,59.03 L149.16,59.78 L149.29,60.52 L149.42,61.26 L149.56,62.00 L149.70,62.74 L149.84,63.48 L149.97,64.23 L150.08,64.97 L150.19,65.71 L150.28,66.46 L150.37,67.21 L150.45,67.95 L150.53,68.70 L150.60,69.45 L150.67,70.20 L150.73,70.95 L150.80,71.70 L150.86,72.45 L150.92,73.20 L150.99,73.96 L151.05,74.71 L151.11,75.46 L151.18,76.21 L151.25,76.96 L151.32,77.71 L151.40,78.46 L151.47,79.21 L151.56,79.95 L151.64,80.70 L151.73,81.45 L151.82,82.20 L151.91,82.95 L152.00,83.69 L152.09,84.44 L152.18,85.19 L152.28,85.94 L152.37,86.68 L152.46,87.43 L152.56,88.18 L152.65,88.93 L152.73,89.67 L152.82,90.42 L152.91,91.17 L152.99,91.92 L153.07,92.67 L153.14,93.42 L153.22,94.17 L153.29,94.92 L153.35,95.67 L153.42,96.42 L153.48,97.17 L153.54,97.92 L153.60,98.67 L153.66,99.42 L153.72,100.17 L153.78,100.92 L153.84,101.67 L153.90,102.42 L153.95,103.17 L154.01,103.92 L154.07,104.67 L154.13,105.42 L154.20,106.17 L154.26,106.93 L154.32,107.68 L154.38,108.43 L154.44,109.18 L154.50,109.93 L154.56,110.68 L154.62,111.43 L154.68,112.18 L154.74,112.93 L154.80,113.68 L154.86,114.43 L154.91,115.18 L154.97,115.93 L155.03,116.68 L155.09,117.43 L155.15,118.19 L155.21,118.94 L155.27,119.69 L155.33,120.44 L155.39,121.19 L155.45,121.94 L155.51,122.69 L155.56,123.44 L155.62,124.19 L155.68,124.94 L155.74,125.69 L155.80,126.44 L155.86,127.19 L155.92,127.95 L155.98,128.70 L156.04,129.45 L156.10,130.20 L156.16,130.95 L156.22,131.70 L156.28,132.45 L156.34,133.20 L156.40,133.95 L156.46,134.70 L156.53,135.45 L156.59,136.20 L156.65,136.95 L156.71,137.70 L156.77,138.45 L156.84,139.20 L156.90,139.95 L156.96,140.70 L157.03,141.45 L157.09,142.20 L157.16,142.95 L157.22,143.70 L157.29,144.45 L157.35,145.20 L157.42,145.95 L157.48,146.70 L157.55,147.45 L157.62,148.20 L157.69,148.95 L157.75,149.70 L157.82,150.45 L157.89,151.20 L157.96,151.95 L158.03,152.70 L158.10,153.45 L158.17,154.20 L158.24,154.95 L158.31,155.70 L158.38,156.45 L158.46,157.20 L158.53,157.95 L158.60,158.70 L158.67,159.45 L158.75,160.20 L158.82,160.95 L158.89,161.70 L158.97,162.45 L159.04,163.20 L159.12,163.95 L159.19,164.70 L159.27,165.45 L159.34,166.19 L159.42,166.94 L159.49,167.69 L159.57,168.44 L159.64,169.19 L159.72,169.94 L159.80,170.69 L159.87,171.44 L159.95,172.19 L160.03,172.94 L160.11,173.69 L160.18,174.44 L160.26,175.18 L160.34,175.93 L160.42,176.68 L160.49,177.43 L160.57,178.18 L160.65,178.93 L160.73,179.68 L160.81,180.43 L160.88,181.18 L160.96,181.93 L161.04,182.67 L161.12,183.42 L161.20,184.17 L161.28,184.92 L161.36,185.67 L161.43,186.42 L161.51,187.17 L161.59,187.92 L161.67,188.67 L161.75,189.42 L161.82,190.17 L161.89,190.92 L161.97,191.67 L162.04,192.42 L162.11,193.17 L162.18,193.92 L162.25,194.67 L162.32,195.42 L162.39,196.17 L162.47,196.92 L162.54,197.67 L162.61,198.42 L162.69,199.17 L162.76,199.92 L162.84,200.67 L162.92,201.42 L163.01,202.17 L163.09,202.92 L163.18,203.66 L163.27,204.41 L163.36,205.16 L163.46,205.90 L163.56,206.65 L163.66,207.39 L163.77,208.14 L163.88,208.88 L163.99,209.65 L164.10,210.46 L164.22,211.28 L164.37,212.06 L164.56,212.75 L164.80,213.30 L165.31,213.79 L166.07,214.17 L166.78,214.25 L167.47,214.25 L168.16,214.25 L168.85,214.25 L169.53,214.25 L170.22,214.25 L170.91,214.25 L171.60,214.25 L172.29,214.25 L172.98,214.25 L173.67,214.26 L174.36,214.26 L175.05,214.26 L175.74,214.26 L176.43,214.26 L177.12,214.26 L177.81,214.26 L178.50,214.26 L179.19,214.26 L179.89,214.26 L180.58,214.26 L181.27,214.26 L181.96,214.26 L182.66,214.26 L183.35,214.26 L184.05,214.26 L184.74,214.26 L185.44,214.26 L186.13,214.26 L186.83,214.26 L187.52,214.26 L188.22,214.27 L188.92,214.27 L189.61,214.27 L190.31,214.27 L191.01,214.27 L191.70,214.27 L192.40,214.27 L193.10,214.27 L193.80,214.27 L194.50,214.27 L195.20,214.27 L195.90,214.27 L196.60,214.27 L197.30,214.27 L198.00,214.27 L198.70,214.27 L199.41,214.27 L200.11,214.27 L200.81,214.27 L201.51,214.27 L202.22,214.27 L202.92,214.27 L203.63,214.27 L204.33,214.27 L205.04,214.27 L205.74,214.27 L206.45,214.27 L207.15,214.28 L207.86,214.28 L208.57,214.28 L209.27,214.28 L209.98,214.28 L210.69,214.28 L211.40,214.28 L212.11,214.28 L212.82,214.28 L213.53,214.28 L214.24,214.28 L214.95,214.28 L215.66,214.28 L216.37,214.28 L217.08,214.28 L217.80,214.28 L218.51,214.28 L219.22,214.28 L219.94,214.28 L220.65,214.28 L221.36,214.28 L222.08,214.28 L222.80,214.28 L223.51,214.28 L224.23,214.28 L224.94,214.28 L225.66,214.28 L226.38,214.28 L227.10,214.28 L227.82,214.28 L228.54,214.28 L229.26,214.28 L229.98,214.28 L230.70,214.28 L231.42,214.28 L232.14,214.29 L232.86,214.29 L233.58,214.29 L234.31,214.29 L235.03,214.29 L235.76,214.29 L236.48,214.29 L237.21,214.29 L237.93,214.29 L238.66,214.29 L239.38,214.29 L240.11,214.29 L240.84,214.29 L241.57,214.29 L242.29,214.29 L243.02,214.29 L243.75,214.29 L244.48,214.29 L245.21,214.29 L245.95,214.29 L246.68,214.29 L247.41,214.29 L248.14,214.29 L248.87,214.29 L249.61,214.29 L250.34,214.29 L251.08,214.29 L251.81,214.29 L252.55,214.29 L253.29,214.29 L254.02,214.29 L254.76,214.29 L255.50,214.29 L256.24,214.29 L256.98,214.29 L257.72,214.29 L258.46,214.29 L259.20,214.29 L259.94,214.29 L260.68,214.29 L261.42,214.29 L262.17,214.29 L262.91,214.29 L263.65,214.29 L264.40,214.29 L265.14,214.29 L265.89,214.29 L266.64,214.29 L267.38,214.29 L268.13,214.29 L268.88,214.29 L269.63,214.29 L270.38,214.29 L271.13,214.29 L271.88,214.29 L272.63,214.29 L273.38,214.29 L274.14,214.30 L274.89,214.30 L275.64,214.30 L276.40,214.30 L277.15,214.30 L277.91,214.30 L278.66,214.30 L279.42,214.30 L280.18,214.30 L280.94,214.30 L281.70,214.30 L282.45,214.30 L283.21,214.30 L283.98,214.30 L284.74,214.30 L285.50,214.30 L286.26,214.30 L287.02,214.30 L287.79,214.30 L288.55,214.30 L289.32,214.30 L290.08,214.30 L290.85,214.30 L291.62,214.30 L292.38,214.30 L293.15,214.30 L293.92,214.30 L294.69,214.30 L295.46,214.30 L296.23,214.30 L297.00,214.30 L297.78,214.30 L298.55,214.30 L299.32,214.30 L300.10,214.30 L300.87,214.30 L301.65,214.30 L302.43,214.30 L303.20,214.30 L303.98,214.30 L304.76,214.30 L305.54,214.30 L306.32,214.30 L307.10,214.30 L307.88,214.30 L308.66,214.30 L309.45,214.30 L310.23,214.30 L311.01,214.30 L311.80,214.30 L312.58,214.30 L313.37,214.30 L314.16,214.30 L314.94,214.30 L315.73,214.30 L316.52,214.30 L317.31,214.30 L318.10,214.30 L318.89,214.30 L319.69,214.30 L320.48,214.30 L321.27,214.30 L322.07,214.30 L322.86,214.30 L323.66,214.30 L324.46,214.30 L325.25,214.30 L326.05,214.30 L326.85,214.30 L327.65,214.30 L328.45,214.30 L329.25,214.30 L330.05,214.30 L330.86,214.30 L331.66,214.30 L332.46,214.30 L333.27,214.30 L334.07,214.30 L334.88,214.30 L335.69,214.30 L336.50,214.30 L337.30,214.30 L338.11,214.30 L338.92,214.30 L339.74,214.30 L340.55,214.30 L341.36,214.30 L342.17,214.30 L342.99,214.30 L343.80,214.30 L344.62,214.30 L345.44,214.30 L346.25,214.30 L347.07,214.30 L347.89,214.30 L348.71,214.30 L349.53,214.30 L350.36,214.30 L351.18,214.30 L352.00,214.30 L352.83,214.30 L353.65,214.30 L354.48,214.30 L355.30,214.30 L356.13,214.30 L356.96,214.30 L357.79,214.30 L358.62,214.30 L359.45,214.30 L360.28,214.30 L361.11,214.30 L361.95,214.30 L362.78,214.30 L363.62,214.30 L364.45,214.30 L365.29,214.30 L366.13,214.30 L366.97,214.30 L367.81,214.30 L368.65,214.30 L369.49,214.30 L370.33,214.30 L371.17,214.30 L372.02,214.30 L372.86,214.30 L373.71,214.30 L374.55,214.30 L375.40,214.30" fill="none" stroke="#008000" stroke-width="3.3" stroke-linejoin="round" stroke-linecap="butt"/><path d="M78.00,32.90 L78.59,32.96 L79.17,33.02 L79.76,33.09 L80.34,33.15 L80.93,33.21 L81.51,33.28 L82.10,33.34 L82.69,33.41 L83.27,33.47 L83.86,33.54 L84.44,33.60 L85.03,33.67 L85.61,33.74 L86.20,33.80 L86.78,33.87 L87.37,33.94 L87.95,34.00 L88.54,34.07 L89.12,34.14 L89.71,34.21 L90.29,34.28 L90.88,34.35 L91.46,34.42 L92.05,34.49 L92.63,34.56 L93.22,34.63 L93.80,34.70 L94.39,34.77 L94.97,34.84 L95.56,34.91 L96.14,34.98 L96.73,35.05 L97.31,35.12 L97.90,35.20 L98.48,35.27 L99.06,35.34 L99.65,35.42 L100.23,35.49 L100.82,35.56 L101.40,35.64 L101.99,35.71 L102.57,35.79 L103.15,35.86 L103.74,35.94 L104.32,36.01 L104.91,36.09 L105.49,36.16 L106.07,36.24 L106.66,36.32 L107.24,36.39 L107.83,36.47 L108.41,36.55 L109.00,36.62 L109.58,36.70 L110.16,36.78 L110.75,36.85 L111.33,36.93 L111.92,37.01 L112.50,37.09 L113.08,37.17 L113.67,37.25 L114.25,37.33 L114.84,37.41 L115.42,37.49 L116.00,37.57 L116.59,37.65 L117.17,37.73 L117.75,37.81 L118.34,37.89 L118.92,37.98 L119.50,38.06 L120.09,38.14 L120.67,38.23 L121.25,38.31 L121.84,38.40 L122.42,38.48 L123.00,38.57 L123.58,38.66 L124.17,38.74 L124.75,38.83 L125.33,38.92 L125.91,39.01 L126.50,39.10 L127.08,39.19 L127.66,39.28 L128.24,39.37 L128.82,39.46 L129.40,39.56 L129.98,39.65 L130.57,39.75 L131.15,39.84 L131.73,39.94 L132.31,40.03 L132.89,40.13 L133.47,40.23 L134.05,40.33 L134.63,40.43 L135.21,40.54 L135.79,40.64 L136.37,40.74 L136.95,40.85 L137.53,40.95 L138.10,41.06 L138.68,41.17 L139.26,41.27 L139.84,41.38 L140.42,41.49 L141.00,41.60 L141.58,41.71 L142.16,41.83 L142.73,41.94 L143.31,42.05 L143.89,42.16 L144.47,42.28 L145.05,42.39 L145.63,42.51 L146.20,42.62 L146.78,42.74 L147.36,42.86 L147.94,42.98 L148.51,43.09 L149.09,43.21 L149.67,43.33 L150.24,43.45 L150.82,43.57 L151.40,43.69 L151.98,43.81 L152.55,43.93 L153.13,44.05 L153.71,44.17 L154.28,44.29 L154.86,44.41 L155.44,44.53 L156.01,44.66 L156.59,44.78 L157.17,44.90 L157.74,45.02 L158.32,45.14 L158.89,45.27 L159.47,45.39 L160.05,45.51 L160.62,45.63 L161.20,45.75 L161.78,45.87 L162.35,46.00 L162.93,46.12 L163.51,46.24 L164.08,46.36 L164.66,46.48 L165.24,46.61 L165.81,46.73 L166.39,46.86 L166.97,46.98 L167.54,47.11 L168.12,47.23 L168.69,47.36 L169.27,47.49 L169.84,47.62 L170.42,47.76 L170.99,47.89 L171.56,48.03 L172.13,48.17 L172.71,48.31 L173.28,48.45 L173.85,48.60 L174.41,48.74 L174.98,48.90 L175.55,49.05 L176.12,49.21 L176.68,49.37 L177.25,49.53 L177.81,49.70 L178.37,49.88 L178.93,50.05 L179.50,50.23 L180.06,50.41 L180.62,50.59 L181.18,50.78 L181.74,50.96 L182.30,51.15 L182.86,51.34 L183.42,51.52 L183.97,51.71 L184.53,51.90 L185.09,52.09 L185.65,52.28 L186.21,52.47 L186.77,52.66 L187.33,52.84 L187.88,53.03 L188.44,53.22 L189.00,53.41 L189.56,53.60 L190.12,53.79 L190.67,53.99 L191.23,54.19 L191.78,54.40 L192.33,54.61 L192.87,54.83 L193.42,55.05 L193.96,55.28 L194.49,55.51 L195.03,55.76 L195.56,56.01 L196.09,56.26 L196.62,56.52 L197.15,56.78 L197.68,57.05 L198.20,57.32 L198.72,57.59 L199.25,57.87 L199.77,58.14 L200.29,58.42 L200.81,58.70 L201.33,58.98 L201.85,59.25 L202.37,59.53 L202.89,59.81 L203.41,60.08 L203.94,60.36 L204.46,60.63 L204.99,60.90 L205.51,61.18 L206.04,61.45 L206.56,61.73 L207.08,62.01 L207.60,62.30 L208.12,62.58 L208.63,62.87 L209.14,63.17 L209.65,63.47 L210.15,63.78 L210.64,64.09 L211.13,64.41 L211.61,64.74 L212.09,65.07 L212.57,65.41 L213.05,65.76 L213.53,66.12 L214.01,66.48 L214.49,66.85 L214.96,67.22 L215.42,67.61 L215.87,68.00 L216.31,68.40 L216.74,68.81 L217.15,69.22 L217.54,69.64 L217.91,70.07 L218.27,70.52 L218.62,70.97 L218.96,71.44 L219.29,71.93 L219.61,72.43 L219.92,72.94 L220.23,73.46 L220.52,73.99 L220.80,74.52 L221.07,75.05 L221.32,75.59 L221.56,76.13 L221.79,76.66 L222.00,77.20 L222.21,77.75 L222.41,78.30 L222.61,78.85 L222.80,79.41 L222.99,79.97 L223.17,80.54 L223.34,81.11 L223.50,81.68 L223.66,82.25 L223.81,82.83 L223.95,83.40 L224.08,83.98 L224.21,84.55 L224.32,85.12 L224.44,85.70 L224.54,86.27 L224.65,86.85 L224.75,87.42 L224.84,88.00 L224.94,88.58 L225.03,89.16 L225.12,89.74 L225.21,90.32 L225.29,90.91 L225.37,91.49 L225.45,92.07 L225.53,92.66 L225.61,93.24 L225.68,93.83 L225.76,94.41 L225.83,95.00 L225.90,95.59 L225.97,96.17 L226.04,96.76 L226.11,97.35 L226.18,97.93 L226.24,98.52 L226.31,99.11 L226.38,99.70 L226.44,100.28 L226.51,100.87 L226.58,101.46 L226.65,102.05 L226.72,102.63 L226.78,103.22 L226.85,103.80 L226.92,104.39 L227.00,104.97 L227.07,105.56 L227.14,106.14 L227.21,106.73 L227.28,107.31 L227.35,107.90 L227.42,108.48 L227.49,109.07 L227.56,109.65 L227.63,110.24 L227.69,110.82 L227.76,111.41 L227.83,111.99 L227.89,112.58 L227.96,113.16 L228.03,113.75 L228.09,114.33 L228.16,114.92 L228.22,115.50 L228.29,116.09 L228.35,116.68 L228.42,117.26 L228.48,117.85 L228.55,118.43 L228.62,119.02 L228.68,119.60 L228.75,120.19 L228.81,120.77 L228.88,121.36 L228.95,121.94 L229.01,122.53 L229.08,123.11 L229.15,123.70 L229.22,124.28 L229.28,124.87 L229.35,125.45 L229.42,126.04 L229.49,126.62 L229.56,127.21 L229.64,127.79 L229.71,128.38 L229.78,128.96 L229.85,129.55 L229.92,130.13 L230.00,130.72 L230.07,131.30 L230.14,131.89 L230.21,132.47 L230.28,133.06 L230.36,133.64 L230.43,134.22 L230.50,134.81 L230.57,135.39 L230.64,135.98 L230.71,136.56 L230.78,137.15 L230.85,137.73 L230.91,138.32 L230.98,138.90 L231.04,139.49 L231.11,140.08 L231.17,140.66 L231.24,141.25 L231.30,141.83 L231.36,142.42 L231.43,143.00 L231.49,143.59 L231.55,144.17 L231.61,144.76 L231.68,145.35 L231.74,145.93 L231.80,146.52 L231.86,147.10 L231.93,147.69 L231.99,148.27 L232.05,148.86 L232.11,149.45 L232.17,150.03 L232.23,150.62 L232.29,151.20 L232.35,151.79 L232.41,152.38 L232.47,152.96 L232.53,153.55 L232.59,154.13 L232.65,154.72 L232.71,155.31 L232.77,155.89 L232.83,156.48 L232.89,157.07 L232.95,157.65 L233.00,158.24 L233.06,158.82 L233.12,159.41 L233.17,160.00 L233.23,160.58 L233.29,161.17 L233.34,161.76 L233.40,162.34 L233.45,162.93 L233.51,163.52 L233.56,164.10 L233.62,164.69 L233.67,165.28 L233.72,165.86 L233.78,166.45 L233.83,167.04 L233.88,167.62 L233.93,168.21 L233.98,168.80 L234.04,169.38 L234.09,169.97 L234.14,170.56 L234.19,171.14 L234.23,171.73 L234.28,172.32 L234.33,172.90 L234.38,173.49 L234.43,174.08 L234.47,174.66 L234.52,175.25 L234.56,175.84 L234.61,176.43 L234.65,177.01 L234.68,177.60 L234.72,178.19 L234.76,178.78 L234.79,179.37 L234.83,179.96 L234.87,180.54 L234.90,181.13 L234.94,181.72 L234.98,182.31 L235.03,182.89 L235.07,183.48 L235.12,184.07 L235.17,184.65 L235.22,185.24 L235.28,185.82 L235.35,186.41 L235.42,186.99 L235.49,187.58 L235.57,188.16 L235.66,188.74 L235.74,189.33 L235.83,189.91 L235.92,190.49 L236.01,191.08 L236.10,191.66 L236.19,192.24 L236.28,192.82 L236.37,193.41 L236.45,193.99 L236.54,194.57 L236.62,195.16 L236.70,195.74 L236.78,196.32 L236.86,196.91 L236.94,197.49 L237.02,198.08 L237.09,198.66 L237.17,199.24 L237.25,199.83 L237.33,200.41 L237.41,201.00 L237.49,201.58 L237.57,202.16 L237.65,202.75 L237.74,203.33 L237.83,203.91 L237.92,204.49 L238.01,205.07 L238.11,205.65 L238.20,206.24 L238.30,206.82 L238.40,207.40 L238.50,207.98 L238.61,208.56 L238.72,209.14 L238.84,209.72 L238.96,210.29 L239.09,210.86 L239.23,211.44 L239.37,212.06 L239.53,212.68 L239.73,213.22 L240.00,213.61 L240.49,213.95 L241.10,214.19 L241.67,214.25 L242.23,214.25 L242.78,214.25 L243.33,214.25 L243.88,214.26 L244.44,214.26 L244.99,214.26 L245.55,214.26 L246.10,214.26 L246.66,214.26 L247.21,214.26 L247.77,214.26 L248.33,214.27 L248.88,214.27 L249.44,214.27 L250.00,214.27 L250.56,214.27 L251.12,214.27 L251.68,214.27 L252.24,214.27 L252.80,214.27 L253.36,214.28 L253.93,214.28 L254.49,214.28 L255.06,214.28 L255.62,214.28 L256.19,214.28 L256.75,214.28 L257.32,214.28 L257.89,214.28 L258.46,214.28 L259.03,214.28 L259.60,214.28 L260.17,214.28 L260.74,214.29 L261.31,214.29 L261.88,214.29 L262.46,214.29 L263.03,214.29 L263.61,214.29 L264.18,214.29 L264.76,214.29 L265.34,214.29 L265.92,214.29 L266.50,214.29 L267.08,214.29 L267.66,214.29 L268.24,214.29 L268.83,214.29 L269.41,214.29 L269.99,214.29 L270.58,214.29 L271.17,214.29 L271.76,214.29 L272.34,214.29 L272.93,214.30 L273.53,214.30 L274.12,214.30 L274.71,214.30 L275.30,214.30 L275.90,214.30 L276.49,214.30 L277.09,214.30 L277.69,214.30 L278.29,214.30 L278.89,214.30 L279.49,214.30 L280.09,214.30 L280.70,214.30 L281.30,214.30 L281.91,214.30 L282.51,214.30 L283.12,214.30 L283.73,214.30 L284.34,214.30 L284.95,214.30 L285.56,214.30 L286.18,214.30 L286.79,214.30 L287.41,214.30 L288.03,214.30 L288.64,214.30 L289.26,214.30 L289.89,214.30 L290.51,214.30 L291.13,214.30 L291.76,214.30 L292.38,214.30 L293.01,214.30 L293.64,214.30 L294.27,214.30 L294.90,214.30 L295.53,214.30 L296.17,214.30 L296.80,214.30 L297.44,214.30 L298.08,214.30 L298.72,214.30 L299.36,214.30 L300.00,214.30" fill="none" stroke="#008000" stroke-width="3.3" stroke-linejoin="round" stroke-linecap="butt"/><g fill="#0000ff"><path d="M183.38,46.27L184.20,48.64L186.71,48.69L184.71,50.20L185.43,52.60L183.38,51.17L181.32,52.60L182.04,50.20L180.05,48.69L182.55,48.64ZM185.08,46.87L185.90,49.24L188.41,49.29L186.41,50.81L187.13,53.21L185.08,51.77L183.02,53.21L183.74,50.81L181.75,49.29L184.25,49.24ZM186.78,47.17L187.60,49.54L190.11,49.59L188.11,51.10L188.83,53.50L186.78,52.07L184.72,53.50L185.44,51.10L183.45,49.59L185.95,49.54ZM188.48,47.76L189.30,50.13L191.81,50.18L189.81,51.69L190.53,54.09L188.48,52.66L186.42,54.09L187.14,51.69L185.15,50.18L187.65,50.13ZM190.18,48.43L191.00,50.79L193.51,50.84L191.51,52.36L192.23,54.76L190.18,53.33L188.12,54.76L188.84,52.36L186.85,50.84L189.35,50.79ZM191.88,48.92L192.70,51.28L195.21,51.33L193.21,52.85L193.93,55.25L191.88,53.82L189.82,55.25L190.54,52.85L188.55,51.33L191.05,51.28ZM193.58,49.06L194.40,51.43L196.91,51.48L194.91,53.00L195.63,55.39L193.58,53.96L191.52,55.39L192.24,53.00L190.25,51.48L192.75,51.43ZM195.28,49.70L196.10,52.06L198.61,52.11L196.61,53.63L197.33,56.03L195.28,54.60L193.22,56.03L193.94,53.63L191.95,52.11L194.45,52.06ZM196.98,50.26L197.80,52.63L200.31,52.68L198.31,54.19L199.03,56.59L196.98,55.16L194.92,56.59L195.64,54.19L193.65,52.68L196.15,52.63ZM198.68,51.14L199.50,53.50L202.01,53.56L200.01,55.07L200.73,57.47L198.68,56.04L196.62,57.47L197.34,55.07L195.35,53.56L197.85,53.50ZM200.38,51.64L201.20,54.00L203.71,54.06L201.71,55.57L202.43,57.97L200.38,56.54L198.32,57.97L199.04,55.57L197.05,54.06L199.55,54.00ZM202.08,52.56L202.90,54.92L205.41,54.97L203.41,56.49L204.13,58.89L202.08,57.46L200.02,58.89L200.74,56.49L198.75,54.97L201.25,54.92ZM203.78,53.34L204.60,55.71L207.11,55.76L205.11,57.27L205.83,59.67L203.78,58.24L201.72,59.67L202.44,57.27L200.45,55.76L202.95,55.71ZM205.48,53.85L206.30,56.22L208.81,56.27L206.81,57.78L207.53,60.18L205.48,58.75L203.42,60.18L204.14,57.78L202.15,56.27L204.65,56.22ZM207.18,54.75L208.00,57.12L210.51,57.17L208.51,58.68L209.23,61.08L207.18,59.65L205.12,61.08L205.84,58.68L203.85,57.17L206.35,57.12ZM208.88,55.41L209.70,57.78L212.21,57.83L210.21,59.35L210.93,61.74L208.88,60.31L206.82,61.74L207.54,59.35L205.55,57.83L208.05,57.78ZM210.58,55.84L211.40,58.21L213.91,58.26L211.91,59.77L212.63,62.17L210.58,60.74L208.52,62.17L209.24,59.77L207.25,58.26L209.75,58.21ZM212.28,56.82L213.10,59.19L215.61,59.24L213.61,60.76L214.33,63.15L212.28,61.72L210.22,63.15L210.94,60.76L208.95,59.24L211.45,59.19ZM213.98,57.39L214.80,59.76L217.31,59.81L215.31,61.32L216.03,63.72L213.98,62.29L211.92,63.72L212.64,61.32L210.65,59.81L213.15,59.76ZM215.68,58.19L216.50,60.55L219.01,60.60L217.01,62.12L217.73,64.52L215.68,63.09L213.62,64.52L214.34,62.12L212.35,60.60L214.85,60.55ZM217.38,58.85L218.20,61.21L220.71,61.27L218.71,62.78L219.43,65.18L217.38,63.75L215.32,65.18L216.04,62.78L214.05,61.27L216.55,61.21ZM219.08,59.78L219.90,62.15L222.41,62.20L220.41,63.72L221.13,66.12L219.08,64.68L217.02,66.12L217.74,63.72L215.75,62.20L218.25,62.15ZM220.78,60.41L221.60,62.78L224.11,62.83L222.11,64.35L222.83,66.75L220.78,65.31L218.72,66.75L219.44,64.35L217.45,62.83L219.95,62.78ZM222.48,61.07L223.30,63.44L225.81,63.49L223.81,65.00L224.53,67.40L222.48,65.97L220.42,67.40L221.14,65.00L219.15,63.49L221.65,63.44ZM224.18,62.11L225.00,64.48L227.51,64.53L225.51,66.04L226.23,68.44L224.18,67.01L222.12,68.44L222.84,66.04L220.85,64.53L223.35,64.48ZM225.88,63.13L226.70,65.50L229.21,65.55L227.21,67.06L227.93,69.46L225.88,68.03L223.82,69.46L224.54,67.06L222.55,65.55L225.05,65.50ZM227.58,63.84L228.40,66.21L230.91,66.26L228.91,67.78L229.63,70.17L227.58,68.74L225.52,70.17L226.24,67.78L224.25,66.26L226.75,66.21ZM229.28,64.80L230.10,67.17L232.61,67.22L230.61,68.73L231.33,71.13L229.28,69.70L227.22,71.13L227.94,68.73L225.95,67.22L228.45,67.17ZM230.98,65.93L231.80,68.30L234.31,68.35L232.31,69.86L233.03,72.26L230.98,70.83L228.92,72.26L229.64,69.86L227.65,68.35L230.15,68.30ZM232.68,67.30L233.50,69.67L236.01,69.72L234.01,71.23L234.73,73.63L232.68,72.20L230.62,73.63L231.34,71.23L229.35,69.72L231.85,69.67ZM234.38,68.48L235.20,70.85L237.71,70.90L235.71,72.41L236.43,74.81L234.38,73.38L232.32,74.81L233.04,72.41L231.05,70.90L233.55,70.85ZM236.08,69.58L236.90,71.95L239.41,72.00L237.41,73.51L238.13,75.91L236.08,74.48L234.02,75.91L234.74,73.51L232.75,72.00L235.25,71.95ZM237.78,71.03L238.60,73.40L241.11,73.45L239.11,74.96L239.83,77.36L237.78,75.93L235.72,77.36L236.44,74.96L234.45,73.45L236.95,73.40ZM239.48,72.39L240.30,74.76L242.81,74.81L240.81,76.33L241.53,78.72L239.48,77.29L237.42,78.72L238.14,76.33L236.15,74.81L238.65,74.76ZM241.18,73.62L242.00,75.99L244.51,76.04L242.51,77.56L243.23,79.96L241.18,78.52L239.12,79.96L239.84,77.56L237.85,76.04L240.35,75.99ZM242.88,75.06L243.70,77.43L246.21,77.48L244.21,78.99L244.93,81.39L242.88,79.96L240.82,81.39L241.54,78.99L239.55,77.48L242.05,77.43ZM244.58,77.06L245.40,79.43L247.91,79.48L245.91,81.00L246.63,83.40L244.58,81.96L242.52,83.40L243.24,81.00L241.25,79.48L243.75,79.43ZM246.28,78.88L247.10,81.24L249.61,81.30L247.61,82.81L248.33,85.21L246.28,83.78L244.22,85.21L244.94,82.81L242.95,81.30L245.45,81.24ZM247.98,80.79L248.80,83.16L251.31,83.21L249.31,84.72L250.03,87.12L247.98,85.69L245.92,87.12L246.64,84.72L244.65,83.21L247.15,83.16ZM249.68,83.23L250.50,85.60L253.01,85.65L251.01,87.16L251.73,89.56L249.68,88.13L247.62,89.56L248.34,87.16L246.35,85.65L248.85,85.60ZM251.38,86.89L252.20,89.25L254.71,89.31L252.71,90.82L253.43,93.22L251.38,91.79L249.32,93.22L250.04,90.82L248.05,89.31L250.55,89.25ZM253.08,94.15L253.90,96.52L256.41,96.57L254.41,98.09L255.13,100.49L253.08,99.05L251.02,100.49L251.74,98.09L249.75,96.57L252.25,96.52ZM254.78,101.57L255.60,103.94L258.11,103.99L256.11,105.51L256.83,107.91L254.78,106.47L252.72,107.91L253.44,105.51L251.45,103.99L253.95,103.94ZM256.48,109.00L257.30,111.37L259.81,111.42L257.81,112.94L258.53,115.34L256.48,113.90L254.42,115.34L255.14,112.94L253.15,111.42L255.65,111.37ZM258.18,113.84L259.00,116.21L261.51,116.26L259.51,117.78L260.23,120.17L258.18,118.74L256.12,120.17L256.84,117.78L254.85,116.26L257.35,116.21ZM259.88,118.32L260.70,120.68L263.21,120.74L261.21,122.25L261.93,124.65L259.88,123.22L257.82,124.65L258.54,122.25L256.55,120.74L259.05,120.68ZM261.58,122.43L262.40,124.79L264.91,124.84L262.91,126.36L263.63,128.76L261.58,127.33L259.52,128.76L260.24,126.36L258.25,124.84L260.75,124.79ZM263.28,126.62L264.10,128.99L266.61,129.04L264.61,130.55L265.33,132.95L263.28,131.52L261.22,132.95L261.94,130.55L259.95,129.04L262.45,128.99ZM264.98,131.46L265.80,133.82L268.31,133.87L266.31,135.39L267.03,137.79L264.98,136.36L262.92,137.79L263.64,135.39L261.65,133.87L264.15,133.82ZM266.68,136.87L267.50,139.23L270.01,139.28L268.01,140.80L268.73,143.20L266.68,141.77L264.62,143.20L265.34,140.80L263.35,139.28L265.85,139.23ZM268.38,141.83L269.20,144.20L271.71,144.25L269.71,145.76L270.43,148.16L268.38,146.73L266.32,148.16L267.04,145.76L265.05,144.25L267.55,144.20ZM270.08,146.69L270.90,149.06L273.41,149.11L271.41,150.62L272.13,153.02L270.08,151.59L268.02,153.02L268.74,150.62L266.75,149.11L269.25,149.06ZM271.78,151.21L272.60,153.58L275.11,153.63L273.11,155.14L273.83,157.54L271.78,156.11L269.72,157.54L270.44,155.14L268.45,153.63L270.95,153.58ZM273.48,155.05L274.30,157.42L276.81,157.47L274.81,158.99L275.53,161.38L273.48,159.95L271.42,161.38L272.14,158.99L270.15,157.47L272.65,157.42ZM275.18,159.05L276.00,161.42L278.51,161.47L276.51,162.98L277.23,165.38L275.18,163.95L273.12,165.38L273.84,162.98L271.85,161.47L274.35,161.42ZM276.88,162.28L277.70,164.65L280.21,164.70L278.21,166.21L278.93,168.61L276.88,167.18L274.82,168.61L275.54,166.21L273.55,164.70L276.05,164.65ZM278.58,165.36L279.40,167.73L281.91,167.78L279.91,169.29L280.63,171.69L278.58,170.26L276.52,171.69L277.24,169.29L275.25,167.78L277.75,167.73ZM280.28,167.95L281.10,170.32L283.61,170.37L281.61,171.88L282.33,174.28L280.28,172.85L278.22,174.28L278.94,171.88L276.95,170.37L279.45,170.32ZM281.98,170.28L282.80,172.65L285.31,172.70L283.31,174.22L284.03,176.62L281.98,175.18L279.92,176.62L280.64,174.22L278.65,172.70L281.15,172.65ZM283.68,172.54L284.50,174.91L287.01,174.96L285.01,176.47L285.73,178.87L283.68,177.44L281.62,178.87L282.34,176.47L280.35,174.96L282.85,174.91ZM285.38,174.62L286.20,176.99L288.71,177.04L286.71,178.55L287.43,180.95L285.38,179.52L283.32,180.95L284.04,178.55L282.05,177.04L284.55,176.99ZM287.08,177.49L287.90,179.86L290.41,179.91L288.41,181.43L289.13,183.83L287.08,182.39L285.02,183.83L285.74,181.43L283.75,179.91L286.25,179.86ZM288.78,180.64L289.60,183.01L292.11,183.06L290.11,184.58L290.83,186.97L288.78,185.54L286.72,186.97L287.44,184.58L285.45,183.06L287.95,183.01ZM290.48,183.94L291.30,186.31L293.81,186.36L291.81,187.87L292.53,190.27L290.48,188.84L288.42,190.27L289.14,187.87L287.15,186.36L289.65,186.31ZM292.18,186.46L293.00,188.83L295.51,188.88L293.51,190.39L294.23,192.79L292.18,191.36L290.12,192.79L290.84,190.39L288.85,188.88L291.35,188.83ZM293.88,188.57L294.70,190.94L297.21,190.99L295.21,192.51L295.93,194.91L293.88,193.47L291.82,194.91L292.54,192.51L290.55,190.99L293.05,190.94ZM295.58,190.08L296.40,192.45L298.91,192.50L296.91,194.02L297.63,196.42L295.58,194.98L293.52,196.42L294.24,194.02L292.25,192.50L294.75,192.45ZM297.28,191.73L298.10,194.10L300.61,194.15L298.61,195.66L299.33,198.06L297.28,196.63L295.22,198.06L295.94,195.66L293.95,194.15L296.45,194.10ZM298.98,193.64L299.80,196.01L302.31,196.06L300.31,197.57L301.03,199.97L298.98,198.54L296.92,199.97L297.64,197.57L295.65,196.06L298.15,196.01ZM300.68,194.66L301.50,197.03L304.01,197.08L302.01,198.59L302.73,200.99L300.68,199.56L298.62,200.99L299.34,198.59L297.35,197.08L299.85,197.03ZM302.38,196.19L303.20,198.56L305.71,198.61L303.71,200.13L304.43,202.53L302.38,201.09L300.32,202.53L301.04,200.13L299.05,198.61L301.55,198.56ZM304.08,197.40L304.90,199.77L307.41,199.82L305.41,201.34L306.13,203.74L304.08,202.30L302.02,203.74L302.74,201.34L300.75,199.82L303.25,199.77ZM305.78,198.51L306.60,200.87L309.11,200.92L307.11,202.44L307.83,204.84L305.78,203.41L303.72,204.84L304.44,202.44L302.45,200.92L304.95,200.87ZM307.48,199.35L308.30,201.71L310.81,201.76L308.81,203.28L309.53,205.68L307.48,204.25L305.42,205.68L306.14,203.28L304.15,201.76L306.65,201.71ZM309.18,200.33L310.00,202.69L312.51,202.74L310.51,204.26L311.23,206.66L309.18,205.23L307.12,206.66L307.84,204.26L305.85,202.74L308.35,202.69ZM310.88,200.96L311.70,203.32L314.21,203.37L312.21,204.89L312.93,207.29L310.88,205.86L308.82,207.29L309.54,204.89L307.55,203.37L310.05,203.32ZM312.58,201.81L313.40,204.18L315.91,204.23L313.91,205.74L314.63,208.14L312.58,206.71L310.52,208.14L311.24,205.74L309.25,204.23L311.75,204.18ZM314.28,202.66L315.10,205.03L317.61,205.08L315.61,206.59L316.33,208.99L314.28,207.56L312.22,208.99L312.94,206.59L310.95,205.08L313.45,205.03ZM315.98,203.35L316.80,205.72L319.31,205.77L317.31,207.28L318.03,209.68L315.98,208.25L313.92,209.68L314.64,207.28L312.65,205.77L315.15,205.72ZM317.68,203.97L318.50,206.34L321.01,206.39L319.01,207.90L319.73,210.30L317.68,208.87L315.62,210.30L316.34,207.90L314.35,206.39L316.85,206.34ZM319.38,204.58L320.20,206.94L322.71,206.99L320.71,208.51L321.43,210.91L319.38,209.48L317.32,210.91L318.04,208.51L316.05,206.99L318.55,206.94ZM321.08,205.33L321.90,207.70L324.41,207.75L322.41,209.27L323.13,211.66L321.08,210.23L319.02,211.66L319.74,209.27L317.75,207.75L320.25,207.70ZM322.78,205.28L323.60,207.64L326.11,207.69L324.11,209.21L324.83,211.61L322.78,210.18L320.72,211.61L321.44,209.21L319.45,207.69L321.95,207.64ZM324.48,207.12L325.30,209.49L327.81,209.54L325.81,211.06L326.53,213.46L324.48,212.02L322.42,213.46L323.14,211.06L321.15,209.54L323.65,209.49ZM326.18,207.00L327.00,209.36L329.51,209.41L327.51,210.93L328.23,213.33L326.18,211.90L324.12,213.33L324.84,210.93L322.85,209.41L325.35,209.36ZM327.88,207.18L328.70,209.55L331.21,209.60L329.21,211.11L329.93,213.51L327.88,212.08L325.82,213.51L326.54,211.11L324.55,209.60L327.05,209.55ZM329.58,208.00L330.40,210.36L332.91,210.41L330.91,211.93L331.63,214.33L329.58,212.90L327.52,214.33L328.24,211.93L326.25,210.41L328.75,210.36ZM331.28,207.70L332.10,210.07L334.61,210.12L332.61,211.63L333.33,214.03L331.28,212.60L329.22,214.03L329.94,211.63L327.95,210.12L330.45,210.07ZM332.98,209.33L333.80,211.70L336.31,211.75L334.31,213.27L335.03,215.66L332.98,214.23L330.92,215.66L331.64,213.27L329.65,211.75L332.15,211.70ZM334.68,209.60L335.50,211.97L338.01,212.02L336.01,213.53L336.73,215.93L334.68,214.50L332.62,215.93L333.34,213.53L331.35,212.02L333.85,211.97ZM336.38,210.03L337.20,212.39L339.71,212.44L337.71,213.96L338.43,216.36L336.38,214.93L334.32,216.36L335.04,213.96L333.05,212.44L335.55,212.39ZM338.08,209.82L338.90,212.18L341.41,212.24L339.41,213.75L340.13,216.15L338.08,214.72L336.02,216.15L336.74,213.75L334.75,212.24L337.25,212.18ZM339.78,211.13L340.60,213.50L343.11,213.55L341.11,215.06L341.83,217.46L339.78,216.03L337.72,217.46L338.44,215.06L336.45,213.55L338.95,213.50ZM341.48,211.17L342.30,213.54L344.81,213.59L342.81,215.10L343.53,217.50L341.48,216.07L339.42,217.50L340.14,215.10L338.15,213.59L340.65,213.54ZM343.18,211.19L344.00,213.56L346.51,213.61L344.51,215.12L345.23,217.52L343.18,216.09L341.12,217.52L341.84,215.12L339.85,213.61L342.35,213.56ZM344.88,212.08L345.70,214.45L348.21,214.50L346.21,216.01L346.93,218.41L344.88,216.98L342.82,218.41L343.54,216.01L341.55,214.50L344.05,214.45ZM346.58,211.59L347.40,213.95L349.91,214.00L347.91,215.52L348.63,217.92L346.58,216.49L344.52,217.92L345.24,215.52L343.25,214.00L345.75,213.95ZM348.28,211.14L349.10,213.51L351.61,213.56L349.61,215.08L350.33,217.48L348.28,216.04L346.22,217.48L346.94,215.08L344.95,213.56L347.45,213.51ZM349.98,211.89L350.80,214.26L353.31,214.31L351.31,215.83L352.03,218.22L349.98,216.79L347.92,218.22L348.64,215.83L346.65,214.31L349.15,214.26ZM351.68,211.23L352.50,213.60L355.01,213.65L353.01,215.17L353.73,217.57L351.68,216.13L349.62,217.57L350.34,215.17L348.35,213.65L350.85,213.60ZM353.38,211.50L354.20,213.86L356.71,213.92L354.71,215.43L355.43,217.83L353.38,216.40L351.32,217.83L352.04,215.43L350.05,213.92L352.55,213.86Z"/></g><path d="M78.00,32.40 L78.64,32.47 L79.28,32.54 L79.92,32.61 L80.57,32.68 L81.21,32.75 L81.85,32.82 L82.49,32.89 L83.13,32.96 L83.77,33.03 L84.41,33.10 L85.05,33.17 L85.69,33.25 L86.34,33.32 L86.98,33.39 L87.62,33.47 L88.26,33.54 L88.90,33.61 L89.54,33.69 L90.18,33.76 L90.82,33.84 L91.46,33.92 L92.10,33.99 L92.74,34.07 L93.38,34.14 L94.02,34.22 L94.66,34.30 L95.30,34.38 L95.94,34.46 L96.58,34.53 L97.22,34.61 L97.86,34.69 L98.50,34.77 L99.14,34.85 L99.78,34.93 L100.42,35.01 L101.06,35.09 L101.70,35.18 L102.34,35.26 L102.98,35.34 L103.62,35.42 L104.26,35.50 L104.90,35.59 L105.54,35.67 L106.18,35.75 L106.82,35.84 L107.46,35.92 L108.10,36.00 L108.74,36.09 L109.38,36.17 L110.02,36.26 L110.66,36.34 L111.29,36.43 L111.93,36.51 L112.57,36.60 L113.21,36.69 L113.85,36.77 L114.49,36.86 L115.13,36.95 L115.77,37.04 L116.41,37.12 L117.05,37.21 L117.69,37.30 L118.33,37.39 L118.97,37.48 L119.60,37.57 L120.24,37.67 L120.88,37.76 L121.52,37.85 L122.16,37.94 L122.80,38.04 L123.43,38.13 L124.07,38.23 L124.71,38.33 L125.35,38.42 L125.98,38.52 L126.62,38.62 L127.26,38.72 L127.90,38.82 L128.53,38.92 L129.17,39.02 L129.80,39.12 L130.44,39.23 L131.08,39.33 L131.71,39.44 L132.35,39.54 L132.98,39.65 L133.62,39.76 L134.25,39.87 L134.89,39.98 L135.52,40.09 L136.16,40.21 L136.79,40.32 L137.43,40.44 L138.06,40.55 L138.69,40.67 L139.33,40.79 L139.96,40.91 L140.60,41.03 L141.23,41.15 L141.86,41.28 L142.50,41.40 L143.13,41.52 L143.76,41.65 L144.39,41.77 L145.03,41.90 L145.66,42.03 L146.29,42.15 L146.92,42.28 L147.56,42.41 L148.19,42.54 L148.82,42.67 L149.45,42.80 L150.09,42.93 L150.72,43.06 L151.35,43.19 L151.98,43.32 L152.61,43.45 L153.24,43.59 L153.88,43.72 L154.51,43.85 L155.14,43.98 L155.77,44.11 L156.40,44.25 L157.03,44.38 L157.66,44.51 L158.30,44.64 L158.93,44.78 L159.56,44.91 L160.19,45.04 L160.82,45.17 L161.45,45.30 L162.08,45.43 L162.72,45.56 L163.35,45.69 L163.98,45.82 L164.61,45.96 L165.24,46.09 L165.88,46.22 L166.51,46.35 L167.14,46.49 L167.77,46.62 L168.40,46.76 L169.03,46.89 L169.66,47.03 L170.29,47.17 L170.92,47.32 L171.55,47.46 L172.18,47.61 L172.80,47.76 L173.43,47.91 L174.06,48.06 L174.68,48.22 L175.30,48.38 L175.93,48.54 L176.55,48.71 L177.17,48.89 L177.79,49.07 L178.40,49.25 L179.02,49.43 L179.64,49.62 L180.26,49.81 L180.87,50.00 L181.49,50.20 L182.10,50.39 L182.72,50.58 L183.34,50.78 L183.95,50.97 L184.57,51.16 L185.18,51.35 L185.80,51.54 L186.42,51.73 L187.04,51.91 L187.66,52.09 L188.28,52.26 L188.90,52.44 L189.52,52.62 L190.14,52.80 L190.76,52.99 L191.38,53.17 L191.99,53.37 L192.60,53.56 L193.21,53.77 L193.82,53.98 L194.42,54.21 L195.03,54.43 L195.63,54.67 L196.23,54.91 L196.82,55.15 L197.42,55.40 L198.01,55.65 L198.61,55.91 L199.20,56.16 L199.79,56.42 L200.38,56.68 L200.97,56.95 L201.56,57.21 L202.15,57.47 L202.74,57.73 L203.33,58.00 L203.92,58.26 L204.50,58.53 L205.09,58.80 L205.67,59.08 L206.25,59.35 L206.84,59.63 L207.42,59.91 L208.00,60.19 L208.58,60.47 L209.16,60.75 L209.74,61.04 L210.32,61.32 L210.90,61.61 L211.48,61.89 L212.06,62.17 L212.64,62.46 L213.22,62.74 L213.80,63.02 L214.38,63.31 L214.96,63.59 L215.54,63.88 L216.12,64.16 L216.70,64.45 L217.27,64.74 L217.85,65.03 L218.42,65.33 L218.99,65.62 L219.56,65.93 L220.13,66.23 L220.69,66.54 L221.25,66.86 L221.81,67.18 L222.36,67.50 L222.92,67.83 L223.47,68.17 L224.02,68.51 L224.56,68.85 L225.11,69.20 L225.65,69.55 L226.19,69.90 L226.73,70.26 L227.27,70.62 L227.80,70.98 L228.34,71.34 L228.87,71.71 L229.40,72.08 L229.93,72.44 L230.46,72.82 L230.98,73.19 L231.51,73.56 L232.03,73.94 L232.55,74.32 L233.06,74.71 L233.58,75.10 L234.09,75.50 L234.60,75.89 L235.10,76.29 L235.61,76.69 L236.12,77.09 L236.62,77.49 L237.12,77.90 L237.62,78.30 L238.12,78.71 L238.62,79.12 L239.12,79.54 L239.61,79.96 L240.10,80.38 L240.58,80.81 L241.05,81.24 L241.53,81.68 L242.00,82.12 L242.46,82.57 L242.92,83.02 L243.38,83.47 L243.84,83.93 L244.29,84.39 L244.74,84.85 L245.18,85.32 L245.62,85.79 L246.06,86.27 L246.50,86.74 L246.93,87.22 L247.37,87.70 L247.80,88.18 L248.23,88.67 L248.65,89.17 L249.06,89.67 L249.46,90.17 L249.84,90.69 L250.21,91.21 L250.55,91.74 L250.89,92.28 L251.22,92.83 L251.54,93.39 L251.85,93.96 L252.16,94.53 L252.46,95.11 L252.75,95.69 L253.04,96.27 L253.33,96.85 L253.62,97.43 L253.90,98.01 L254.19,98.58 L254.46,99.17 L254.74,99.75 L255.01,100.33 L255.28,100.92 L255.54,101.51 L255.80,102.10 L256.06,102.69 L256.32,103.28 L256.58,103.87 L256.84,104.46 L257.10,105.05 L257.36,105.64 L257.62,106.23 L257.88,106.82 L258.14,107.41 L258.40,108.01 L258.66,108.60 L258.92,109.19 L259.17,109.78 L259.43,110.37 L259.68,110.96 L259.94,111.56 L260.20,112.15 L260.46,112.74 L260.71,113.33 L260.97,113.92 L261.23,114.51 L261.49,115.10 L261.74,115.70 L262.00,116.29 L262.25,116.88 L262.51,117.47 L262.76,118.07 L263.02,118.66 L263.27,119.25 L263.52,119.85 L263.77,120.44 L264.02,121.04 L264.26,121.63 L264.51,122.23 L264.76,122.82 L265.01,123.42 L265.25,124.02 L265.50,124.61 L265.74,125.21 L265.99,125.81 L266.23,126.40 L266.47,127.00 L266.71,127.60 L266.95,128.20 L267.18,128.80 L267.41,129.41 L267.64,130.01 L267.86,130.61 L268.08,131.22 L268.29,131.83 L268.51,132.44 L268.71,133.05 L268.92,133.66 L269.12,134.27 L269.32,134.88 L269.52,135.50 L269.72,136.11 L269.91,136.73 L270.11,137.34 L270.30,137.95 L270.50,138.57 L270.70,139.18 L270.90,139.80 L271.10,140.41 L271.31,141.02 L271.51,141.63 L271.72,142.24 L271.92,142.86 L272.13,143.47 L272.33,144.08 L272.54,144.69 L272.75,145.30 L272.95,145.91 L273.16,146.52 L273.37,147.13 L273.59,147.74 L273.80,148.35 L274.02,148.96 L274.24,149.56 L274.46,150.17 L274.69,150.77 L274.92,151.37 L275.15,151.97 L275.39,152.57 L275.63,153.17 L275.87,153.77 L276.12,154.37 L276.36,154.96 L276.60,155.56 L276.85,156.16 L277.09,156.75 L277.34,157.35 L277.58,157.95 L277.82,158.55 L278.06,159.15 L278.29,159.75 L278.53,160.35 L278.76,160.95 L279.00,161.55 L279.23,162.15 L279.46,162.76 L279.70,163.36 L279.93,163.96 L280.17,164.56 L280.41,165.16 L280.65,165.76 L280.89,166.35 L281.14,166.95 L281.39,167.54 L281.64,168.13 L281.90,168.72 L282.16,169.31 L282.43,169.90 L282.71,170.48 L282.99,171.06 L283.27,171.64 L283.55,172.22 L283.84,172.80 L284.13,173.38 L284.42,173.95 L284.71,174.53 L284.99,175.11 L285.28,175.69 L285.57,176.26 L285.85,176.84 L286.13,177.43 L286.40,178.01 L286.68,178.59 L286.94,179.18 L287.21,179.77 L287.47,180.36 L287.73,180.95 L287.98,181.55 L288.24,182.14 L288.50,182.73 L288.76,183.32 L289.02,183.91 L289.28,184.50 L289.55,185.09 L289.82,185.67 L290.09,186.26 L290.37,186.84 L290.66,187.41 L290.95,187.99 L291.24,188.56 L291.54,189.14 L291.83,189.71 L292.14,190.29 L292.44,190.86 L292.75,191.43 L293.07,191.99 L293.39,192.56 L293.72,193.12 L294.05,193.67 L294.39,194.21 L294.73,194.75 L295.09,195.29 L295.45,195.81 L295.82,196.33 L296.20,196.86 L296.58,197.38 L296.98,197.89 L297.39,198.40 L297.80,198.91 L298.22,199.41 L298.65,199.90 L299.08,200.38 L299.52,200.85 L299.97,201.31 L300.43,201.76 L300.89,202.20 L301.36,202.62 L301.84,203.04 L302.34,203.44 L302.85,203.84 L303.37,204.23 L303.89,204.61 L304.43,204.98 L304.97,205.35 L305.51,205.71 L306.06,206.06 L306.60,206.41 L307.15,206.75 L307.70,207.08 L308.25,207.41 L308.81,207.74 L309.37,208.06 L309.93,208.38 L310.50,208.69 L311.08,208.99 L311.65,209.28 L312.24,209.56 L312.82,209.82 L313.41,210.08 L314.00,210.32 L314.60,210.56 L315.20,210.79 L315.81,211.02 L316.42,211.24 L317.03,211.45 L317.64,211.65 L318.26,211.85 L318.88,212.04 L319.49,212.23 L320.11,212.41 L320.73,212.59 L321.35,212.77 L321.98,212.95 L322.60,213.11 L323.23,213.26 L323.86,213.40 L324.49,213.52 L325.13,213.62 L325.76,213.71 L326.40,213.79 L327.04,213.87 L327.68,213.95 L328.33,214.01 L328.97,214.07 L329.61,214.12 L330.26,214.17 L330.90,214.20 L331.55,214.23 L332.19,214.26 L332.83,214.28 L333.48,214.31 L334.12,214.33 L334.77,214.36 L335.41,214.38 L336.06,214.40 L336.70,214.42 L337.35,214.43 L337.99,214.45 L338.64,214.46 L339.28,214.47 L339.93,214.48 L340.57,214.49 L341.22,214.50 L341.86,214.50 L342.51,214.50 L343.15,214.50 L343.80,214.50 L344.44,214.50 L345.09,214.50 L345.73,214.50 L346.38,214.50 L347.02,214.50 L347.67,214.50 L348.31,214.50 L348.96,214.50 L349.60,214.50 L350.25,214.50 L350.89,214.50 L351.54,214.50 L352.18,214.50 L352.83,214.50 L353.47,214.50 L354.12,214.50 L354.76,214.50 L355.40,214.50 L356.05,214.50 L356.69,214.50 L357.34,214.50 L357.98,214.50 L358.63,214.50 L359.27,214.50 L359.92,214.50 L360.56,214.50 L361.21,214.50 L361.85,214.50 L362.50,214.50 L363.14,214.50 L363.79,214.50 L364.43,214.50 L365.08,214.50 L365.72,214.50 L366.37,214.50 L367.01,214.50 L367.66,214.50 L368.30,214.50 L368.95,214.50 L369.59,214.50 L370.24,214.50 L370.88,214.50 L371.53,214.50 L372.17,214.50 L372.82,214.50 L373.46,214.50 L374.11,214.50 L374.75,214.50 L375.40,214.50" fill="none" stroke="#ff7f0e" stroke-width="3.4" stroke-linejoin="round"/><circle cx="90.60" cy="51.60" r="3.2" fill="url(#rg)"/><circle cx="120.10" cy="53.70" r="3.2" fill="url(#rg)"/><circle cx="133.50" cy="56.80" r="3.2" fill="url(#rg)"/><circle cx="141.20" cy="65.50" r="3.2" fill="url(#rg)"/><circle cx="146.50" cy="74.30" r="3.2" fill="url(#rg)"/><circle cx="150.60" cy="85.60" r="3.2" fill="url(#rg)"/><circle cx="153.40" cy="96.10" r="3.2" fill="url(#rg)"/><circle cx="156.10" cy="109.50" r="3.2" fill="url(#rg)"/><circle cx="158.20" cy="123.90" r="3.2" fill="url(#rg)"/><circle cx="159.80" cy="131.60" r="3.2" fill="url(#rg)"/><circle cx="161.30" cy="143.70" r="3.2" fill="url(#rg)"/><circle cx="162.60" cy="152.10" r="3.2" fill="url(#rg)"/><circle cx="164.00" cy="162.00" r="3.2" fill="url(#rg)"/><circle cx="164.60" cy="170.30" r="3.2" fill="url(#rg)"/><circle cx="165.30" cy="177.70" r="3.2" fill="url(#rg)"/><circle cx="166.40" cy="185.40" r="3.2" fill="url(#rg)"/><circle cx="167.00" cy="189.40" r="3.2" fill="url(#rg)"/><circle cx="167.70" cy="193.90" r="3.2" fill="url(#rg)"/><circle cx="168.70" cy="196.40" r="3.2" fill="url(#rg)"/><circle cx="169.40" cy="198.80" r="3.2" fill="url(#rg)"/><circle cx="294.40" cy="216.10" r="3.2" fill="url(#rg)"/><circle cx="265.20" cy="215.00" r="3.2" fill="url(#rg)"/><circle cx="252.00" cy="214.80" r="3.2" fill="url(#rg)"/><circle cx="243.90" cy="210.60" r="3.2" fill="url(#rg)"/><circle cx="239.10" cy="205.50" r="3.2" fill="url(#rg)"/><circle cx="235.60" cy="204.10" r="3.2" fill="url(#rg)"/><circle cx="232.20" cy="196.30" r="3.2" fill="url(#rg)"/><circle cx="228.90" cy="133.20" r="3.2" fill="url(#rg)"/><circle cx="227.10" cy="105.60" r="3.2" fill="url(#rg)"/><circle cx="225.80" cy="88.50" r="3.2" fill="url(#rg)"/><circle cx="224.70" cy="79.80" r="3.2" fill="url(#rg)"/><circle cx="223.20" cy="72.10" r="3.2" fill="url(#rg)"/><circle cx="221.50" cy="68.40" r="3.2" fill="url(#rg)"/><circle cx="220.70" cy="65.80" r="3.2" fill="url(#rg)"/><circle cx="219.30" cy="62.60" r="3.2" fill="url(#rg)"/><circle cx="218.50" cy="60.40" r="3.2" fill="url(#rg)"/><circle cx="217.30" cy="56.60" r="3.2" fill="url(#rg)"/><circle cx="216.90" cy="54.20" r="3.2" fill="url(#rg)"/></g><rect x="258.5" y="30.55" width="116.69999999999999" height="61.95" fill="#fff"/><g stroke="#2a2a2a" stroke-width="1" fill="none"><path d="M78.0,30.55 H375.2 V218.5 H78.0 Z"/><path d="M78.00,218.5 v2.0 M96.30,218.5 v4.0 M114.89,218.5 v2.0 M133.49,218.5 v4.0 M152.08,218.5 v2.0 M170.68,218.5 v4.0 M189.27,218.5 v2.0 M207.86,218.5 v4.0 M226.46,218.5 v2.0 M245.05,218.5 v4.0 M263.64,218.5 v2.0 M282.24,218.5 v4.0 M300.83,218.5 v2.0 M319.43,218.5 v4.0 M338.02,218.5 v2.0 M356.61,218.5 v4.0 M375.20,218.5 v2.0 M78.0,216.70 h-3.8 M78.0,196.03 h-2.0 M78.0,175.36 h-3.8 M78.0,154.69 h-2.0 M78.0,134.02 h-3.8 M78.0,113.35 h-2.0 M78.0,92.68 h-3.8 M78.0,72.01 h-2.0 M78.0,51.34 h-3.8"/><path d="M96.30,30.55 v1.3 M133.49,30.55 v1.3 M170.68,30.55 v1.3" stroke-opacity="0.5"/></g><clipPath id="cp2"><rect x="79.0" y="216.3" width="295.2" height="2.6499999999999773"/></clipPath><clipPath id="cp3"><rect x="79.0" y="30.55" width="295.2" height="188.39999999999998"/></clipPath><g fill="#0000ff" clip-path="url(#cp2)"><rect x="158.10" y="182.50" width="5.6" height="5.6"/><rect x="158.43" y="183.01" width="5.6" height="5.6"/><rect x="158.76" y="183.53" width="5.6" height="5.6"/><rect x="159.08" y="184.04" width="5.6" height="5.6"/><rect x="159.41" y="184.56" width="5.6" height="5.6"/><rect x="159.73" y="185.07" width="5.6" height="5.6"/><rect x="160.06" y="185.59" width="5.6" height="5.6"/><rect x="160.38" y="186.10" width="5.6" height="5.6"/><rect x="160.71" y="186.62" width="5.6" height="5.6"/><rect x="161.03" y="187.13" width="5.6" height="5.6"/><rect x="161.36" y="187.65" width="5.6" height="5.6"/><rect x="161.67" y="188.17" width="5.6" height="5.6"/><rect x="161.99" y="188.69" width="5.6" height="5.6"/><rect x="162.30" y="189.22" width="5.6" height="5.6"/><rect x="162.61" y="189.75" width="5.6" height="5.6"/><rect x="162.92" y="190.28" width="5.6" height="5.6"/><rect x="163.22" y="190.81" width="5.6" height="5.6"/><rect x="163.53" y="191.33" width="5.6" height="5.6"/><rect x="163.84" y="191.86" width="5.6" height="5.6"/><rect x="164.15" y="192.38" width="5.6" height="5.6"/><rect x="164.47" y="192.91" width="5.6" height="5.6"/><rect x="164.79" y="193.42" width="5.6" height="5.6"/><rect x="165.12" y="193.93" width="5.6" height="5.6"/><rect x="165.46" y="194.44" width="5.6" height="5.6"/><rect x="165.80" y="194.94" width="5.6" height="5.6"/><rect x="166.15" y="195.43" width="5.6" height="5.6"/><rect x="166.51" y="195.92" width="5.6" height="5.6"/><rect x="166.88" y="196.40" width="5.6" height="5.6"/><rect x="167.26" y="196.88" width="5.6" height="5.6"/><rect x="167.65" y="197.36" width="5.6" height="5.6"/><rect x="168.04" y="197.82" width="5.6" height="5.6"/><rect x="168.45" y="198.28" width="5.6" height="5.6"/><rect x="168.86" y="198.74" width="5.6" height="5.6"/><rect x="169.28" y="199.18" width="5.6" height="5.6"/><rect x="169.70" y="199.60" width="5.6" height="5.6"/><rect x="170.14" y="200.02" width="5.6" height="5.6"/><rect x="170.59" y="200.43" width="5.6" height="5.6"/><rect x="171.06" y="200.83" width="5.6" height="5.6"/><rect x="171.53" y="201.22" width="5.6" height="5.6"/><rect x="172.01" y="201.60" width="5.6" height="5.6"/><rect x="172.49" y="201.97" width="5.6" height="5.6"/><rect x="172.98" y="202.34" width="5.6" height="5.6"/><rect x="173.47" y="202.70" width="5.6" height="5.6"/><rect x="173.96" y="203.05" width="5.6" height="5.6"/><rect x="174.46" y="203.40" width="5.6" height="5.6"/><rect x="174.97" y="203.75" width="5.6" height="5.6"/><rect x="175.48" y="204.09" width="5.6" height="5.6"/><rect x="176.00" y="204.41" width="5.6" height="5.6"/><rect x="176.52" y="204.73" width="5.6" height="5.6"/><rect x="177.04" y="205.04" width="5.6" height="5.6"/><rect x="177.57" y="205.33" width="5.6" height="5.6"/><rect x="178.11" y="205.61" width="5.6" height="5.6"/><rect x="178.65" y="205.88" width="5.6" height="5.6"/><rect x="179.20" y="206.14" width="5.6" height="5.6"/><rect x="179.76" y="206.39" width="5.6" height="5.6"/><rect x="180.32" y="206.63" width="5.6" height="5.6"/><rect x="180.89" y="206.87" width="5.6" height="5.6"/><rect x="181.45" y="207.10" width="5.6" height="5.6"/><rect x="182.02" y="207.33" width="5.6" height="5.6"/><rect x="182.58" y="207.55" width="5.6" height="5.6"/><rect x="183.15" y="207.78" width="5.6" height="5.6"/><rect x="183.72" y="207.99" width="5.6" height="5.6"/><rect x="184.29" y="208.21" width="5.6" height="5.6"/><rect x="184.86" y="208.41" width="5.6" height="5.6"/><rect x="185.44" y="208.62" width="5.6" height="5.6"/><rect x="186.02" y="208.82" width="5.6" height="5.6"/><rect x="186.59" y="209.01" width="5.6" height="5.6"/><rect x="187.17" y="209.20" width="5.6" height="5.6"/><rect x="187.76" y="209.38" width="5.6" height="5.6"/><rect x="188.34" y="209.54" width="5.6" height="5.6"/><rect x="188.93" y="209.70" width="5.6" height="5.6"/><rect x="189.53" y="209.85" width="5.6" height="5.6"/><rect x="190.12" y="209.99" width="5.6" height="5.6"/><rect x="190.71" y="210.15" width="5.6" height="5.6"/><rect x="191.30" y="210.31" width="5.6" height="5.6"/><rect x="191.88" y="210.49" width="5.6" height="5.6"/><rect x="192.45" y="210.69" width="5.6" height="5.6"/><rect x="193.00" y="210.93" width="5.6" height="5.6"/><rect x="193.55" y="211.19" width="5.6" height="5.6"/><rect x="194.10" y="211.47" width="5.6" height="5.6"/><rect x="194.65" y="211.74" width="5.6" height="5.6"/><rect x="195.20" y="212.00" width="5.6" height="5.6"/><rect x="195.76" y="212.25" width="5.6" height="5.6"/><rect x="196.32" y="212.49" width="5.6" height="5.6"/><rect x="196.88" y="212.73" width="5.6" height="5.6"/><rect x="197.44" y="212.97" width="5.6" height="5.6"/><rect x="198.00" y="213.20" width="5.6" height="5.6"/><rect x="235.80" y="194.10" width="5.6" height="5.6"/><rect x="236.27" y="194.49" width="5.6" height="5.6"/><rect x="236.74" y="194.87" width="5.6" height="5.6"/><rect x="237.22" y="195.25" width="5.6" height="5.6"/><rect x="237.70" y="195.62" width="5.6" height="5.6"/><rect x="238.18" y="195.99" width="5.6" height="5.6"/><rect x="238.67" y="196.35" width="5.6" height="5.6"/><rect x="239.16" y="196.72" width="5.6" height="5.6"/><rect x="239.65" y="197.07" width="5.6" height="5.6"/><rect x="240.14" y="197.43" width="5.6" height="5.6"/><rect x="240.63" y="197.78" width="5.6" height="5.6"/><rect x="241.13" y="198.14" width="5.6" height="5.6"/><rect x="241.62" y="198.50" width="5.6" height="5.6"/><rect x="242.11" y="198.87" width="5.6" height="5.6"/><rect x="242.60" y="199.24" width="5.6" height="5.6"/><rect x="243.10" y="199.61" width="5.6" height="5.6"/><rect x="243.60" y="199.96" width="5.6" height="5.6"/><rect x="244.11" y="200.29" width="5.6" height="5.6"/><rect x="244.62" y="200.60" width="5.6" height="5.6"/><rect x="245.15" y="200.88" width="5.6" height="5.6"/><rect x="245.69" y="201.12" width="5.6" height="5.6"/><rect x="246.25" y="201.35" width="5.6" height="5.6"/><rect x="246.82" y="201.56" width="5.6" height="5.6"/><rect x="247.40" y="201.75" width="5.6" height="5.6"/><rect x="247.98" y="201.94" width="5.6" height="5.6"/><rect x="248.56" y="202.13" width="5.6" height="5.6"/><rect x="249.15" y="202.32" width="5.6" height="5.6"/><rect x="249.72" y="202.52" width="5.6" height="5.6"/><rect x="250.29" y="202.74" width="5.6" height="5.6"/><rect x="250.86" y="202.96" width="5.6" height="5.6"/><rect x="251.42" y="203.20" width="5.6" height="5.6"/><rect x="251.98" y="203.44" width="5.6" height="5.6"/><rect x="252.53" y="203.68" width="5.6" height="5.6"/><rect x="253.09" y="203.93" width="5.6" height="5.6"/><rect x="253.65" y="204.18" width="5.6" height="5.6"/><rect x="254.20" y="204.43" width="5.6" height="5.6"/><rect x="254.76" y="204.68" width="5.6" height="5.6"/><rect x="255.31" y="204.93" width="5.6" height="5.6"/><rect x="255.87" y="205.17" width="5.6" height="5.6"/><rect x="256.43" y="205.41" width="5.6" height="5.6"/><rect x="256.99" y="205.64" width="5.6" height="5.6"/><rect x="257.56" y="205.86" width="5.6" height="5.6"/><rect x="258.12" y="206.07" width="5.6" height="5.6"/><rect x="258.69" y="206.27" width="5.6" height="5.6"/><rect x="259.27" y="206.47" width="5.6" height="5.6"/><rect x="259.84" y="206.67" width="5.6" height="5.6"/><rect x="260.42" y="206.86" width="5.6" height="5.6"/><rect x="261.00" y="207.05" width="5.6" height="5.6"/><rect x="261.57" y="207.24" width="5.6" height="5.6"/><rect x="262.15" y="207.42" width="5.6" height="5.6"/><rect x="262.74" y="207.60" width="5.6" height="5.6"/><rect x="263.32" y="207.78" width="5.6" height="5.6"/><rect x="263.90" y="207.95" width="5.6" height="5.6"/><rect x="264.49" y="208.12" width="5.6" height="5.6"/><rect x="265.07" y="208.29" width="5.6" height="5.6"/><rect x="265.66" y="208.46" width="5.6" height="5.6"/><rect x="266.25" y="208.62" width="5.6" height="5.6"/><rect x="266.83" y="208.78" width="5.6" height="5.6"/><rect x="267.42" y="208.94" width="5.6" height="5.6"/><rect x="268.01" y="209.09" width="5.6" height="5.6"/><rect x="268.60" y="209.25" width="5.6" height="5.6"/><rect x="269.18" y="209.40" width="5.6" height="5.6"/><rect x="269.77" y="209.54" width="5.6" height="5.6"/><rect x="270.36" y="209.69" width="5.6" height="5.6"/><rect x="270.95" y="209.83" width="5.6" height="5.6"/><rect x="271.54" y="209.98" width="5.6" height="5.6"/><rect x="272.13" y="210.12" width="5.6" height="5.6"/><rect x="272.73" y="210.26" width="5.6" height="5.6"/><rect x="273.32" y="210.40" width="5.6" height="5.6"/><rect x="273.91" y="210.53" width="5.6" height="5.6"/><rect x="274.51" y="210.66" width="5.6" height="5.6"/><rect x="275.10" y="210.80" width="5.6" height="5.6"/><rect x="275.70" y="210.93" width="5.6" height="5.6"/><rect x="276.29" y="211.05" width="5.6" height="5.6"/><rect x="276.89" y="211.18" width="5.6" height="5.6"/><rect x="277.48" y="211.30" width="5.6" height="5.6"/><rect x="278.08" y="211.42" width="5.6" height="5.6"/><rect x="278.68" y="211.54" width="5.6" height="5.6"/><rect x="279.27" y="211.65" width="5.6" height="5.6"/><rect x="279.87" y="211.76" width="5.6" height="5.6"/><rect x="280.47" y="211.87" width="5.6" height="5.6"/><rect x="281.07" y="211.98" width="5.6" height="5.6"/><rect x="281.66" y="212.08" width="5.6" height="5.6"/><rect x="282.26" y="212.18" width="5.6" height="5.6"/><rect x="282.86" y="212.28" width="5.6" height="5.6"/><rect x="283.46" y="212.37" width="5.6" height="5.6"/><rect x="284.06" y="212.46" width="5.6" height="5.6"/><rect x="284.67" y="212.55" width="5.6" height="5.6"/><rect x="285.27" y="212.64" width="5.6" height="5.6"/><rect x="285.87" y="212.72" width="5.6" height="5.6"/><rect x="286.47" y="212.81" width="5.6" height="5.6"/><rect x="287.08" y="212.88" width="5.6" height="5.6"/><rect x="287.68" y="212.96" width="5.6" height="5.6"/><rect x="288.28" y="213.03" width="5.6" height="5.6"/><rect x="288.89" y="213.10" width="5.6" height="5.6"/><rect x="289.49" y="213.17" width="5.6" height="5.6"/><rect x="290.10" y="213.24" width="5.6" height="5.6"/><rect x="290.70" y="213.30" width="5.6" height="5.6"/></g><g clip-path="url(#cp3)"><circle cx="294.40" cy="216.10" r="3.2" fill="url(#rg)"/></g><path d="M258.5,30.55 V92.5 H375.2" fill="none" stroke="#2a2a2a" stroke-width="1"/><path d="M258.5,31.3 H375.4 V92.5" fill="none" stroke="#777" stroke-width="0.9"/><rect x="272.9" y="36.650000000000006" width="5.6" height="5.6" fill="#0000ff"/><circle cx="275.6" cy="51.35" r="3.4" fill="url(#rg)"/><path d="M264.8,63.1 H286.5" stroke="#008000" stroke-width="3.4" stroke-linecap="round"/><path d="M275.50,72.00L276.41,74.50L279.07,74.59L276.97,76.23L277.70,78.78L275.50,77.30L273.30,78.78L274.03,76.23L271.93,74.59L274.59,74.50Z" fill="#0000ff"/><path d="M264.8,87.3 H286.5" stroke="#ff7f0e" stroke-width="3.4" stroke-linecap="round"/></svg><div class="t xl" style="left:96.6px">145</div><div class="t xl" style="left:133.8px">150</div><div class="t xl" style="left:171.0px">155</div><div class="t xl" style="left:208.2px">160</div><div class="t xl" style="left:245.4px">165</div><div class="t xl" style="left:282.5px">170</div><div class="t xl" style="left:319.7px">175</div><div class="t xl" style="left:356.9px">180</div><div class="t yl" style="top:217.20px">0.0</div><div class="t yl" style="top:175.41px">0.2</div><div class="t yl" style="top:133.32px">0.4</div><div class="t yl" style="top:92.93px">0.6</div><div class="t yl" style="top:50.89px">0.8</div><div class="t lg" style="top:39.6px">Transport (QS)</div><div class="t lg" style="top:51.8px">DTA (QS)</div><div class="t lg" style="top:63.4px">Theory (QS)</div><div class="t lg" style="top:75.6px">Transport (50Kpm)</div><div class="t lg" style="top:87.8px">Theory (50Kpm)</div><div class="t" id="xt" style="font-size:14.56px;left:226.5px;top:239.7px;transform:translateX(-50%)">Temperature (K)</div><div class="t" id="yt" style="font-size:14.65px;left:37.5px;top:136.1px;transform:translate(-50%,-50%) rotate(-90deg)">Insulator Fraction (<i>&#981;</i>)</div></div></body></html>
